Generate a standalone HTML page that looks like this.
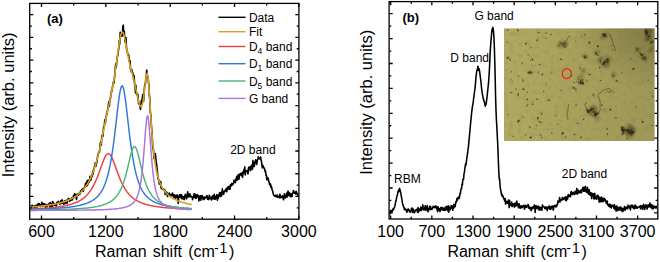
<!DOCTYPE html>
<html><head><meta charset="utf-8"><style>
html,body{margin:0;padding:0;background:#fff;}
svg{display:block;}
text{font-family:"Liberation Sans",sans-serif;fill:#000;}
</style></head><body>
<svg width="660" height="262" viewBox="0 0 660 262">
<rect width="660" height="262" fill="#fff"/>
<polyline points="30.2,207.2 30.6,207.6 31.1,206.7 31.5,205.7 32.0,206.3 32.4,205.4 32.9,207.0 33.3,208.9 33.8,206.1 34.2,205.9 34.7,207.5 35.1,207.3 35.6,206.9 36.0,205.3 36.5,206.6 36.9,207.6 37.4,204.5 37.8,205.8 38.3,203.6 38.7,204.5 39.2,203.6 39.6,206.0 40.1,204.4 40.5,206.6 41.0,206.4 41.4,205.8 41.9,202.3 42.3,205.2 42.8,205.9 43.2,206.1 43.7,203.5 44.1,205.1 44.6,204.3 45.0,204.5 45.5,207.2 45.9,204.3 46.4,205.4 46.8,206.8 47.3,204.5 47.7,204.9 48.2,205.4 48.6,205.3 49.1,203.2 49.5,205.1 50.0,207.0 50.4,202.5 50.9,206.1 51.3,204.9 51.8,203.7 52.2,207.6 52.7,201.5 53.1,202.6 53.6,204.4 54.0,205.1 54.5,203.5 54.9,205.1 55.4,203.9 55.8,204.9 56.3,206.0 56.7,202.6 57.2,203.9 57.6,202.8 58.1,201.7 58.5,201.4 59.0,202.3 59.4,202.7 59.9,204.3 60.3,203.4 60.8,200.7 61.2,201.3 61.7,203.4 62.1,199.7 62.6,201.5 63.0,201.9 63.5,203.8 63.9,204.2 64.4,201.1 64.8,200.9 65.3,200.9 65.7,203.5 66.2,200.3 66.6,200.4 67.1,203.2 67.5,200.3 68.0,200.0 68.4,198.4 68.9,199.9 69.3,199.0 69.8,201.4 70.2,200.4 70.7,199.1 71.1,200.0 71.6,198.1 72.0,200.1 72.5,198.2 72.9,198.9 73.4,195.7 73.8,198.0 74.3,194.5 74.7,193.7 75.2,196.2 75.6,194.9 76.1,196.3 76.5,199.4 77.0,194.1 77.4,194.1 77.9,195.1 78.3,195.2 78.8,193.8 79.2,193.3 79.7,194.4 80.1,193.7 80.6,190.8 81.0,191.9 81.5,191.6 81.9,189.4 82.4,191.1 82.8,188.7 83.3,191.3 83.7,188.3 84.2,188.7 84.6,187.0 85.1,187.2 85.5,183.4 86.0,186.2 86.4,186.1 86.9,181.1 87.3,185.6 87.8,180.3 88.2,183.9 88.7,180.3 89.1,182.3 89.6,180.3 90.0,176.4 90.5,180.5 90.9,179.9 91.4,176.2 91.8,174.7 92.3,176.4 92.7,171.2 93.2,173.9 93.6,169.6 94.1,169.2 94.5,166.5 95.0,165.4 95.4,162.7 95.9,166.2 96.3,164.3 96.8,162.5 97.2,158.9 97.7,155.8 98.1,154.8 98.6,152.5 99.0,151.8 99.5,152.1 99.9,147.2 100.4,142.9 100.8,142.0 101.3,145.3 101.7,138.0 102.2,135.0 102.6,135.9 103.1,136.2 103.5,127.3 104.0,128.0 104.4,124.7 104.9,119.7 105.3,123.5 105.8,119.5 106.2,117.5 106.7,113.3 107.1,114.2 107.6,109.5 108.0,108.4 108.5,103.9 108.9,101.5 109.4,106.1 109.8,99.2 110.3,99.3 110.7,96.3 111.2,93.0 111.6,90.6 112.1,91.2 112.5,86.6 113.0,84.5 113.4,82.1 113.9,83.2 114.3,79.0 114.8,75.2 115.2,69.4 115.7,63.8 116.1,67.7 116.6,64.5 117.0,57.7 117.5,56.5 117.9,54.0 118.4,50.9 118.8,48.0 119.3,40.4 119.7,44.1 120.2,32.2 120.6,36.9 121.1,33.8 121.5,33.6 122.0,36.2 122.4,34.6 122.9,26.1 123.3,25.2 123.8,35.3 124.2,31.1 124.7,36.7 125.1,42.1 125.6,38.3 126.0,37.7 126.5,48.1 126.9,50.1 127.4,51.7 127.8,55.1 128.3,54.7 128.7,55.0 129.2,61.3 129.6,60.9 130.1,60.8 130.5,69.1 131.0,69.2 131.4,72.2 131.9,69.7 132.3,72.3 132.8,73.0 133.2,75.0 133.7,79.9 134.1,75.9 134.6,84.1 135.0,86.0 135.5,92.8 135.9,85.4 136.4,93.9 136.8,93.4 137.3,95.7 137.7,94.0 138.2,98.6 138.6,103.6 139.1,103.0 139.5,104.8 140.0,104.8 140.4,109.3 140.9,106.5 141.3,100.6 141.8,103.9 142.2,99.3 142.7,94.6 143.1,99.0 143.6,101.1 144.0,94.3 144.5,87.2 144.9,83.8 145.4,84.5 145.8,78.4 146.3,76.0 146.7,70.0 147.2,73.7 147.6,77.2 148.1,77.5 148.5,82.9 149.0,85.2 149.4,96.1 149.9,100.0 150.3,111.9 150.8,115.0 151.2,122.8 151.7,129.5 152.1,132.5 152.6,144.8 153.0,149.2 153.5,149.6 153.9,158.4 154.4,159.1 154.8,156.3 155.3,153.6 155.7,157.4 156.2,162.1 156.6,164.0 157.1,169.4 157.5,173.2 158.0,178.9 158.4,179.4 158.9,180.2 159.3,184.1 159.8,181.6 160.2,183.0 160.7,181.5 161.1,188.3 161.6,188.1 162.0,188.8 162.5,189.2 162.9,189.0 163.4,189.8 163.8,189.3 164.3,190.4 164.7,189.6 165.2,194.4 165.6,193.3 166.1,192.8 166.5,192.2 167.0,192.5 167.4,196.4 167.9,195.8 168.3,194.4 168.8,194.0 169.2,193.0 169.7,194.8 170.1,196.5 170.6,194.5 171.0,194.9 171.5,194.5 171.9,195.7 172.4,193.0 172.8,195.3 173.3,194.4 173.7,197.3 174.2,194.7 174.6,196.9 175.1,198.5 175.5,195.7 176.0,195.3 176.4,196.6 176.9,197.7 177.3,194.8 177.8,197.2 178.2,203.5 178.7,196.1 179.1,196.2 179.6,194.8 180.0,197.0 180.5,194.5 180.9,194.7 181.4,198.6 181.8,195.0 182.3,198.2 182.7,198.9 183.2,196.9 183.6,197.4 184.1,199.6 184.5,196.2 185.0,195.5 185.4,194.3 185.9,196.6 186.3,198.9 186.8,198.0 187.2,195.0 187.7,191.8 188.1,195.7 188.6,197.0 189.0,194.3 189.5,196.8 189.9,193.8 190.4,196.0 190.8,196.5 191.3,196.9 191.7,196.4 192.2,197.4 192.6,199.6 193.1,197.6 193.5,196.8 194.0,194.1 194.4,197.5 194.9,193.8 195.3,194.7 195.8,198.4 196.2,198.2 196.7,196.9 197.1,194.5 197.6,196.7 198.0,196.2 198.5,195.7 198.9,201.0 199.4,197.8 199.8,196.2 200.3,195.7 200.7,200.3 201.2,197.3 201.6,195.8 202.1,197.8 202.5,195.8 203.0,199.5 203.4,199.4 203.9,199.5 204.3,197.0 204.8,198.6 205.2,197.6 205.7,197.3 206.1,197.4 206.6,195.9 207.0,195.6 207.5,199.2 207.9,197.7 208.4,198.3 208.8,199.6 209.3,195.2 209.7,196.8 210.2,198.3 210.6,198.6 211.1,197.3 211.5,200.0 212.0,198.2 212.4,195.8 212.9,196.2 213.3,198.8 213.8,198.1 214.2,194.2 214.7,199.3 215.1,198.0 215.6,199.0 216.0,196.1 216.5,196.1 216.9,194.6 217.4,200.3 217.8,195.8 218.3,198.4 218.7,194.7 219.2,195.8 219.6,192.6 220.1,194.5 220.5,196.5 221.0,192.6 221.4,196.1 221.9,194.7 222.3,188.8 222.8,192.7 223.2,192.5 223.7,194.3 224.1,191.7 224.6,190.9 225.0,191.5 225.5,189.9 225.9,189.0 226.4,190.6 226.8,191.7 227.3,187.2 227.7,189.2 228.2,187.6 228.6,186.5 229.1,189.1 229.5,186.2 230.0,189.2 230.4,184.8 230.9,186.3 231.3,184.8 231.8,183.4 232.2,185.2 232.7,183.5 233.1,184.3 233.6,182.7 234.0,180.4 234.5,181.7 234.9,181.5 235.4,182.6 235.8,178.8 236.3,179.9 236.7,176.5 237.2,180.2 237.6,176.7 238.1,174.9 238.5,177.6 239.0,179.3 239.4,174.1 239.9,174.4 240.3,174.6 240.8,173.4 241.2,175.7 241.7,173.1 242.1,172.8 242.6,177.5 243.0,171.8 243.5,173.6 243.9,169.9 244.4,169.8 244.8,166.9 245.3,175.0 245.7,170.7 246.2,171.5 246.6,170.8 247.1,171.0 247.5,170.7 248.0,174.0 248.4,168.3 248.9,167.1 249.3,167.1 249.8,167.0 250.2,170.6 250.7,170.4 251.1,166.5 251.6,165.1 252.0,166.5 252.5,169.3 252.9,160.6 253.4,166.6 253.8,162.9 254.3,166.5 254.7,161.8 255.2,162.8 255.6,159.9 256.1,160.4 256.5,164.5 257.0,162.9 257.4,160.0 257.9,158.7 258.3,156.8 258.8,158.7 259.2,159.0 259.7,158.6 260.1,158.5 260.6,157.0 261.0,160.0 261.5,161.3 261.9,165.4 262.4,167.9 262.8,165.3 263.3,166.7 263.7,167.8 264.2,168.0 264.6,169.0 265.1,171.6 265.5,171.0 266.0,175.3 266.4,175.3 266.9,179.8 267.3,177.6 267.8,177.9 268.2,178.7 268.7,181.1 269.1,181.8 269.6,184.3 270.0,185.1 270.5,183.9 270.9,187.5 271.4,186.3 271.8,188.6 272.3,190.3 272.7,191.3 273.2,193.6 273.6,195.0 274.1,195.6 274.5,195.9 275.0,196.3 275.4,195.3 275.9,196.5 276.3,196.0 276.8,197.0 277.2,195.0 277.7,197.3 278.1,197.1 278.6,196.7 279.0,196.2 279.5,197.8 279.9,194.2 280.4,197.6 280.8,197.3 281.3,197.3 281.7,197.4 282.2,195.7 282.6,196.2 283.1,197.6 283.5,199.8 284.0,196.7 284.4,193.9 284.9,197.0 285.3,197.9 285.8,197.6 286.2,196.2 286.7,193.1 287.1,197.0 287.6,195.1 288.0,191.1 288.5,195.7 288.9,192.5 289.4,192.7 289.8,193.6 290.3,196.6 290.7,193.7 291.2,194.5 291.6,196.6 292.1,196.1 292.5,193.1 293.0,192.6 293.4,190.6 293.9,191.4 294.3,193.1 294.8,193.0 295.2,192.5 295.7,194.0 296.1,191.2 296.6,192.5 297.0,194.0 297.5,193.9 297.9,195.0 298.4,194.1" fill="none" stroke="#000" stroke-width="1.6" stroke-linejoin="round"/>
<polyline points="30.2,208.9 30.7,208.9 31.2,208.9 31.7,208.9 32.2,208.9 32.7,208.8 33.2,208.8 33.7,208.8 34.2,208.8 34.7,208.8 35.2,208.7 35.7,208.7 36.2,208.7 36.7,208.7 37.2,208.6 37.7,208.6 38.2,208.6 38.7,208.6 39.2,208.5 39.7,208.5 40.2,208.5 40.7,208.4 41.2,208.4 41.7,208.4 42.2,208.4 42.7,208.3 43.2,208.3 43.7,208.3 44.2,208.2 44.7,208.2 45.2,208.2 45.7,208.1 46.2,208.1 46.7,208.0 47.2,208.0 47.7,208.0 48.2,207.9 48.7,207.9 49.2,207.8 49.7,207.8 50.2,207.8 50.7,207.7 51.2,207.7 51.7,207.6 52.2,207.6 52.7,207.5 53.2,207.5 53.7,207.4 54.2,207.4 54.7,207.3 55.2,207.2 55.7,207.2 56.2,207.1 56.7,207.1 57.2,207.0 57.7,206.9 58.2,206.9 58.7,206.8 59.2,206.7 59.7,206.7 60.2,206.6 60.7,206.5 61.2,206.4 61.7,206.3 62.2,206.3 62.7,206.2 63.2,206.1 63.7,206.0 64.2,205.9 64.7,205.8 65.2,205.7 65.7,205.6 66.2,205.5 66.7,205.4 67.2,205.3 67.7,205.2 68.2,205.0 68.7,204.9 69.2,204.8 69.7,204.6 70.2,204.5 70.7,204.4 71.2,204.2 71.7,204.1 72.2,203.9 72.7,203.7 73.2,203.6 73.7,203.4 74.2,203.2 74.7,203.0 75.2,202.8 75.7,202.6 76.2,202.4 76.7,202.2 77.2,202.0 77.7,201.7 78.2,201.5 78.7,201.2 79.2,200.9 79.7,200.7 80.2,200.4 80.7,200.1 81.2,199.8 81.7,199.4 82.2,199.1 82.7,198.7 83.2,198.4 83.7,198.0 84.2,197.6 84.7,197.1 85.2,196.7 85.7,196.2 86.2,195.8 86.7,195.3 87.2,194.7 87.7,194.2 88.2,193.6 88.7,193.0 89.2,192.4 89.7,191.7 90.2,191.0 90.7,190.3 91.2,189.5 91.7,188.7 92.2,187.9 92.7,187.0 93.2,186.1 93.7,185.2 94.2,184.2 94.7,183.2 95.2,182.1 95.7,181.0 96.2,179.9 96.7,178.7 97.2,177.5 97.7,176.2 98.2,174.9 98.7,173.6 99.2,172.2 99.7,170.8 100.2,169.4 100.7,168.0 101.2,166.6 101.7,165.2 102.2,163.8 102.7,162.5 103.2,161.2 103.7,159.9 104.2,158.7 104.7,157.7 105.2,156.7 105.7,155.8 106.2,155.1 106.7,154.5 107.2,154.0 107.7,153.8 108.2,153.6 108.7,153.7 109.2,153.9 109.7,154.3 110.2,154.8 110.7,155.5 111.2,156.3 111.7,157.2 112.2,158.3 112.7,159.4 113.2,160.6 113.7,161.9 114.2,163.2 114.7,164.6 115.2,166.0 115.7,167.4 116.2,168.8 116.7,170.2 117.2,171.6 117.7,173.0 118.2,174.3 118.7,175.6 119.2,176.9 119.7,178.2 120.2,179.4 120.7,180.5 121.2,181.7 121.7,182.7 122.2,183.8 122.7,184.8 123.2,185.7 123.7,186.7 124.2,187.5 124.7,188.4 125.2,189.2 125.7,190.0 126.2,190.7 126.7,191.4 127.2,192.1 127.7,192.7 128.2,193.3 128.7,193.9 129.2,194.5 129.7,195.0 130.2,195.5 130.7,196.0 131.2,196.5 131.7,197.0 132.2,197.4 132.7,197.8 133.2,198.2 133.7,198.6 134.2,198.9 134.7,199.3 135.2,199.6 135.7,199.9 136.2,200.2 136.7,200.5 137.2,200.8 137.7,201.1 138.2,201.4 138.7,201.6 139.2,201.9 139.7,202.1 140.2,202.3 140.7,202.5 141.2,202.7 141.7,202.9 142.2,203.1 142.7,203.3 143.2,203.5 143.7,203.7 144.2,203.8 144.7,204.0 145.2,204.1 145.7,204.3 146.2,204.4 146.7,204.6 147.2,204.7 147.7,204.8 148.2,205.0 148.7,205.1 149.2,205.2 149.7,205.3 150.2,205.4 150.7,205.6 151.2,205.7 151.7,205.8 152.2,205.9 152.7,206.0 153.2,206.0 153.7,206.1 154.2,206.2 154.7,206.3 155.2,206.4 155.7,206.5 156.2,206.5 156.7,206.6 157.2,206.7 157.7,206.8 158.2,206.8 158.7,206.9 159.2,207.0 159.7,207.0 160.2,207.1 160.7,207.2 161.2,207.2 161.7,207.3 162.2,207.3 162.7,207.4 163.2,207.4 163.7,207.5 164.2,207.5 164.7,207.6 165.2,207.6 165.7,207.7 166.2,207.7 166.7,207.8 167.2,207.8 167.7,207.9 168.2,207.9 168.7,207.9 169.2,208.0 169.7,208.0 170.2,208.1 170.7,208.1 171.2,208.1 171.7,208.2 172.2,208.2 172.7,208.2 173.2,208.3 173.7,208.3 174.2,208.3 174.7,208.4 175.2,208.4 175.7,208.4 176.2,208.5 176.7,208.5 177.2,208.5 177.7,208.5 178.2,208.6 178.7,208.6 179.2,208.6 179.7,208.6 180.2,208.7 180.7,208.7 181.2,208.7 181.7,208.7 182.2,208.8 182.7,208.8 183.2,208.8 183.7,208.8 184.2,208.9 184.7,208.9 185.2,208.9 185.7,208.9 186.2,208.9 186.7,209.0 187.2,209.0 187.7,209.0 188.2,209.0 188.7,209.0 189.2,209.0 189.7,209.1 190.2,209.1 190.7,209.1 191.2,209.1 191.7,209.1" fill="none" stroke="#e8403f" stroke-width="1.45"/>
<polyline points="30.2,209.4 30.7,209.4 31.2,209.3 31.7,209.3 32.2,209.3 32.7,209.3 33.2,209.3 33.7,209.3 34.2,209.3 34.7,209.2 35.2,209.2 35.7,209.2 36.2,209.2 36.7,209.2 37.2,209.2 37.7,209.2 38.2,209.1 38.7,209.1 39.2,209.1 39.7,209.1 40.2,209.1 40.7,209.1 41.2,209.0 41.7,209.0 42.2,209.0 42.7,209.0 43.2,209.0 43.7,209.0 44.2,208.9 44.7,208.9 45.2,208.9 45.7,208.9 46.2,208.9 46.7,208.8 47.2,208.8 47.7,208.8 48.2,208.8 48.7,208.7 49.2,208.7 49.7,208.7 50.2,208.7 50.7,208.6 51.2,208.6 51.7,208.6 52.2,208.6 52.7,208.5 53.2,208.5 53.7,208.5 54.2,208.4 54.7,208.4 55.2,208.4 55.7,208.4 56.2,208.3 56.7,208.3 57.2,208.3 57.7,208.2 58.2,208.2 58.7,208.2 59.2,208.1 59.7,208.1 60.2,208.0 60.7,208.0 61.2,208.0 61.7,207.9 62.2,207.9 62.7,207.8 63.2,207.8 63.7,207.7 64.2,207.7 64.7,207.7 65.2,207.6 65.7,207.6 66.2,207.5 66.7,207.5 67.2,207.4 67.7,207.3 68.2,207.3 68.7,207.2 69.2,207.2 69.7,207.1 70.2,207.0 70.7,207.0 71.2,206.9 71.7,206.8 72.2,206.8 72.7,206.7 73.2,206.6 73.7,206.5 74.2,206.5 74.7,206.4 75.2,206.3 75.7,206.2 76.2,206.1 76.7,206.0 77.2,205.9 77.7,205.8 78.2,205.7 78.7,205.6 79.2,205.5 79.7,205.4 80.2,205.3 80.7,205.2 81.2,205.0 81.7,204.9 82.2,204.8 82.7,204.6 83.2,204.5 83.7,204.3 84.2,204.2 84.7,204.0 85.2,203.9 85.7,203.7 86.2,203.5 86.7,203.3 87.2,203.1 87.7,202.9 88.2,202.7 88.7,202.5 89.2,202.3 89.7,202.0 90.2,201.8 90.7,201.5 91.2,201.3 91.7,201.0 92.2,200.7 92.7,200.4 93.2,200.1 93.7,199.7 94.2,199.4 94.7,199.0 95.2,198.6 95.7,198.2 96.2,197.8 96.7,197.3 97.2,196.8 97.7,196.3 98.2,195.8 98.7,195.2 99.2,194.6 99.7,194.0 100.2,193.3 100.7,192.6 101.2,191.8 101.7,191.0 102.2,190.1 102.7,189.2 103.2,188.2 103.7,187.1 104.2,186.0 104.7,184.8 105.2,183.5 105.7,182.1 106.2,180.7 106.7,179.1 107.2,177.4 107.7,175.6 108.2,173.7 108.7,171.6 109.2,169.4 109.7,167.1 110.2,164.6 110.7,161.9 111.2,159.1 111.7,156.1 112.2,152.9 112.7,149.6 113.2,146.1 113.7,142.4 114.2,138.5 114.7,134.5 115.2,130.3 115.7,126.1 116.2,121.7 116.7,117.4 117.2,113.0 117.7,108.7 118.2,104.5 118.7,100.6 119.2,96.9 119.7,93.7 120.2,90.9 120.7,88.7 121.2,87.1 121.7,86.1 122.2,85.9 122.7,86.4 123.2,87.6 123.7,89.4 124.2,91.8 124.7,94.8 125.2,98.2 125.7,102.0 126.2,106.0 126.7,110.2 127.2,114.6 127.7,118.9 128.2,123.3 128.7,127.6 129.2,131.9 129.7,136.0 130.2,139.9 130.7,143.7 131.2,147.4 131.7,150.8 132.2,154.1 132.7,157.2 133.2,160.1 133.7,162.9 134.2,165.5 134.7,167.9 135.2,170.2 135.7,172.4 136.2,174.4 136.7,176.3 137.2,178.0 137.7,179.7 138.2,181.2 138.7,182.6 139.2,184.0 139.7,185.2 140.2,186.4 140.7,187.5 141.2,188.6 141.7,189.5 142.2,190.4 142.7,191.3 143.2,192.1 143.7,192.8 144.2,193.5 144.7,194.2 145.2,194.8 145.7,195.4 146.2,196.0 146.7,196.5 147.2,197.0 147.7,197.5 148.2,197.9 148.7,198.3 149.2,198.7 149.7,199.1 150.2,199.5 150.7,199.8 151.2,200.2 151.7,200.5 152.2,200.8 152.7,201.1 153.2,201.4 153.7,201.6 154.2,201.9 154.7,202.1 155.2,202.4 155.7,202.6 156.2,202.8 156.7,203.0 157.2,203.2 157.7,203.4 158.2,203.6 158.7,203.8 159.2,203.9 159.7,204.1 160.2,204.2 160.7,204.4 161.2,204.5 161.7,204.7 162.2,204.8 162.7,205.0 163.2,205.1 163.7,205.2 164.2,205.3 164.7,205.4 165.2,205.6 165.7,205.7 166.2,205.8 166.7,205.9 167.2,206.0 167.7,206.1 168.2,206.1 168.7,206.2 169.2,206.3 169.7,206.4 170.2,206.5 170.7,206.6 171.2,206.6 171.7,206.7 172.2,206.8 172.7,206.9 173.2,206.9 173.7,207.0 174.2,207.1 174.7,207.1 175.2,207.2 175.7,207.2 176.2,207.3 176.7,207.4 177.2,207.4 177.7,207.5 178.2,207.5 178.7,207.6 179.2,207.6 179.7,207.7 180.2,207.7 180.7,207.8 181.2,207.8 181.7,207.9 182.2,207.9 182.7,207.9 183.2,208.0 183.7,208.0 184.2,208.1 184.7,208.1 185.2,208.1 185.7,208.2 186.2,208.2 186.7,208.2 187.2,208.3 187.7,208.3 188.2,208.3 188.7,208.4 189.2,208.4 189.7,208.4 190.2,208.5 190.7,208.5 191.2,208.5 191.7,208.5" fill="none" stroke="#2f78d6" stroke-width="1.45"/>
<polyline points="30.2,209.9 30.7,209.9 31.2,209.9 31.7,209.9 32.2,209.9 32.7,209.9 33.2,209.9 33.7,209.9 34.2,209.9 34.7,209.9 35.2,209.9 35.7,209.9 36.2,209.9 36.7,209.9 37.2,209.9 37.7,209.9 38.2,209.9 38.7,209.8 39.2,209.8 39.7,209.8 40.2,209.8 40.7,209.8 41.2,209.8 41.7,209.8 42.2,209.8 42.7,209.8 43.2,209.8 43.7,209.8 44.2,209.8 44.7,209.8 45.2,209.8 45.7,209.7 46.2,209.7 46.7,209.7 47.2,209.7 47.7,209.7 48.2,209.7 48.7,209.7 49.2,209.7 49.7,209.7 50.2,209.7 50.7,209.7 51.2,209.6 51.7,209.6 52.2,209.6 52.7,209.6 53.2,209.6 53.7,209.6 54.2,209.6 54.7,209.6 55.2,209.6 55.7,209.5 56.2,209.5 56.7,209.5 57.2,209.5 57.7,209.5 58.2,209.5 58.7,209.5 59.2,209.5 59.7,209.4 60.2,209.4 60.7,209.4 61.2,209.4 61.7,209.4 62.2,209.4 62.7,209.4 63.2,209.3 63.7,209.3 64.2,209.3 64.7,209.3 65.2,209.3 65.7,209.3 66.2,209.2 66.7,209.2 67.2,209.2 67.7,209.2 68.2,209.2 68.7,209.1 69.2,209.1 69.7,209.1 70.2,209.1 70.7,209.1 71.2,209.0 71.7,209.0 72.2,209.0 72.7,209.0 73.2,208.9 73.7,208.9 74.2,208.9 74.7,208.9 75.2,208.8 75.7,208.8 76.2,208.8 76.7,208.8 77.2,208.7 77.7,208.7 78.2,208.7 78.7,208.6 79.2,208.6 79.7,208.6 80.2,208.5 80.7,208.5 81.2,208.5 81.7,208.4 82.2,208.4 82.7,208.3 83.2,208.3 83.7,208.3 84.2,208.2 84.7,208.2 85.2,208.1 85.7,208.1 86.2,208.0 86.7,208.0 87.2,207.9 87.7,207.9 88.2,207.8 88.7,207.8 89.2,207.7 89.7,207.6 90.2,207.6 90.7,207.5 91.2,207.5 91.7,207.4 92.2,207.3 92.7,207.2 93.2,207.2 93.7,207.1 94.2,207.0 94.7,206.9 95.2,206.8 95.7,206.8 96.2,206.7 96.7,206.6 97.2,206.5 97.7,206.4 98.2,206.3 98.7,206.1 99.2,206.0 99.7,205.9 100.2,205.8 100.7,205.7 101.2,205.5 101.7,205.4 102.2,205.2 102.7,205.1 103.2,204.9 103.7,204.8 104.2,204.6 104.7,204.4 105.2,204.2 105.7,204.0 106.2,203.8 106.7,203.6 107.2,203.4 107.7,203.1 108.2,202.9 108.7,202.6 109.2,202.3 109.7,202.1 110.2,201.8 110.7,201.4 111.2,201.1 111.7,200.8 112.2,200.4 112.7,200.0 113.2,199.6 113.7,199.1 114.2,198.7 114.7,198.2 115.2,197.7 115.7,197.1 116.2,196.5 116.7,195.9 117.2,195.3 117.7,194.6 118.2,193.8 118.7,193.1 119.2,192.2 119.7,191.4 120.2,190.4 120.7,189.4 121.2,188.4 121.7,187.3 122.2,186.1 122.7,184.8 123.2,183.5 123.7,182.0 124.2,180.5 124.7,178.9 125.2,177.3 125.7,175.5 126.2,173.6 126.7,171.7 127.2,169.7 127.7,167.7 128.2,165.6 128.7,163.4 129.2,161.3 129.7,159.1 130.2,157.0 130.7,155.0 131.2,153.1 131.7,151.4 132.2,149.9 132.7,148.6 133.2,147.6 133.7,146.9 134.2,146.6 134.7,146.5 135.2,146.8 135.7,147.5 136.2,148.5 136.7,149.7 137.2,151.2 137.7,152.9 138.2,154.7 138.7,156.7 139.2,158.8 139.7,160.9 140.2,163.1 140.7,165.2 141.2,167.4 141.7,169.4 142.2,171.4 142.7,173.4 143.2,175.2 143.7,177.0 144.2,178.7 144.7,180.3 145.2,181.8 145.7,183.2 146.2,184.6 146.7,185.9 147.2,187.1 147.7,188.2 148.2,189.3 148.7,190.3 149.2,191.2 149.7,192.1 150.2,193.0 150.7,193.7 151.2,194.5 151.7,195.2 152.2,195.8 152.7,196.5 153.2,197.0 153.7,197.6 154.2,198.1 154.7,198.6 155.2,199.1 155.7,199.5 156.2,199.9 156.7,200.3 157.2,200.7 157.7,201.1 158.2,201.4 158.7,201.7 159.2,202.0 159.7,202.3 160.2,202.6 160.7,202.8 161.2,203.1 161.7,203.3 162.2,203.6 162.7,203.8 163.2,204.0 163.7,204.2 164.2,204.4 164.7,204.6 165.2,204.7 165.7,204.9 166.2,205.1 166.7,205.2 167.2,205.4 167.7,205.5 168.2,205.6 168.7,205.8 169.2,205.9 169.7,206.0 170.2,206.1 170.7,206.2 171.2,206.4 171.7,206.5 172.2,206.6 172.7,206.7 173.2,206.7 173.7,206.8 174.2,206.9 174.7,207.0 175.2,207.1 175.7,207.2 176.2,207.2 176.7,207.3 177.2,207.4 177.7,207.4 178.2,207.5 178.7,207.6 179.2,207.6 179.7,207.7 180.2,207.8 180.7,207.8 181.2,207.9 181.7,207.9 182.2,208.0 182.7,208.0 183.2,208.1 183.7,208.1 184.2,208.2 184.7,208.2 185.2,208.3 185.7,208.3 186.2,208.3 186.7,208.4 187.2,208.4 187.7,208.5 188.2,208.5 188.7,208.5 189.2,208.6 189.7,208.6 190.2,208.6 190.7,208.7 191.2,208.7 191.7,208.7" fill="none" stroke="#4db27b" stroke-width="1.45"/>
<polyline points="30.2,210.4 30.7,210.4 31.2,210.4 31.7,210.4 32.2,210.4 32.7,210.4 33.2,210.4 33.7,210.4 34.2,210.4 34.7,210.4 35.2,210.4 35.7,210.4 36.2,210.4 36.7,210.4 37.2,210.4 37.7,210.3 38.2,210.3 38.7,210.3 39.2,210.3 39.7,210.3 40.2,210.3 40.7,210.3 41.2,210.3 41.7,210.3 42.2,210.3 42.7,210.3 43.2,210.3 43.7,210.3 44.2,210.3 44.7,210.3 45.2,210.3 45.7,210.3 46.2,210.3 46.7,210.3 47.2,210.3 47.7,210.3 48.2,210.3 48.7,210.3 49.2,210.3 49.7,210.3 50.2,210.3 50.7,210.3 51.2,210.3 51.7,210.3 52.2,210.3 52.7,210.3 53.2,210.3 53.7,210.3 54.2,210.3 54.7,210.3 55.2,210.3 55.7,210.3 56.2,210.3 56.7,210.3 57.2,210.3 57.7,210.3 58.2,210.3 58.7,210.3 59.2,210.3 59.7,210.3 60.2,210.3 60.7,210.3 61.2,210.3 61.7,210.3 62.2,210.3 62.7,210.3 63.2,210.3 63.7,210.2 64.2,210.2 64.7,210.2 65.2,210.2 65.7,210.2 66.2,210.2 66.7,210.2 67.2,210.2 67.7,210.2 68.2,210.2 68.7,210.2 69.2,210.2 69.7,210.2 70.2,210.2 70.7,210.2 71.2,210.2 71.7,210.2 72.2,210.2 72.7,210.2 73.2,210.2 73.7,210.2 74.2,210.2 74.7,210.2 75.2,210.2 75.7,210.2 76.2,210.2 76.7,210.2 77.2,210.1 77.7,210.1 78.2,210.1 78.7,210.1 79.2,210.1 79.7,210.1 80.2,210.1 80.7,210.1 81.2,210.1 81.7,210.1 82.2,210.1 82.7,210.1 83.2,210.1 83.7,210.1 84.2,210.1 84.7,210.1 85.2,210.1 85.7,210.0 86.2,210.0 86.7,210.0 87.2,210.0 87.7,210.0 88.2,210.0 88.7,210.0 89.2,210.0 89.7,210.0 90.2,210.0 90.7,210.0 91.2,210.0 91.7,209.9 92.2,209.9 92.7,209.9 93.2,209.9 93.7,209.9 94.2,209.9 94.7,209.9 95.2,209.9 95.7,209.9 96.2,209.8 96.7,209.8 97.2,209.8 97.7,209.8 98.2,209.8 98.7,209.8 99.2,209.8 99.7,209.8 100.2,209.7 100.7,209.7 101.2,209.7 101.7,209.7 102.2,209.7 102.7,209.7 103.2,209.6 103.7,209.6 104.2,209.6 104.7,209.6 105.2,209.6 105.7,209.5 106.2,209.5 106.7,209.5 107.2,209.5 107.7,209.4 108.2,209.4 108.7,209.4 109.2,209.3 109.7,209.3 110.2,209.3 110.7,209.3 111.2,209.2 111.7,209.2 112.2,209.1 112.7,209.1 113.2,209.1 113.7,209.0 114.2,209.0 114.7,208.9 115.2,208.9 115.7,208.8 116.2,208.8 116.7,208.7 117.2,208.7 117.7,208.6 118.2,208.6 118.7,208.5 119.2,208.4 119.7,208.3 120.2,208.3 120.7,208.2 121.2,208.1 121.7,208.0 122.2,207.9 122.7,207.8 123.2,207.7 123.7,207.6 124.2,207.5 124.7,207.3 125.2,207.2 125.7,207.1 126.2,206.9 126.7,206.7 127.2,206.6 127.7,206.4 128.2,206.2 128.7,205.9 129.2,205.7 129.7,205.5 130.2,205.2 130.7,204.9 131.2,204.5 131.7,204.2 132.2,203.8 132.7,203.4 133.2,202.9 133.7,202.4 134.2,201.8 134.7,201.2 135.2,200.5 135.7,199.7 136.2,198.9 136.7,197.9 137.2,196.7 137.7,195.5 138.2,194.0 138.7,192.3 139.2,190.4 139.7,188.1 140.2,185.6 140.7,182.6 141.2,179.3 141.7,175.4 142.2,171.1 142.7,166.2 143.2,160.8 143.7,154.8 144.2,148.4 144.7,141.7 145.2,134.9 145.7,128.5 146.2,122.9 146.7,118.6 147.2,116.3 147.7,116.0 148.2,118.0 148.7,121.9 149.2,127.2 149.7,133.5 150.2,140.3 150.7,147.0 151.2,153.5 151.7,159.6 152.2,165.1 152.7,170.1 153.2,174.6 153.7,178.5 154.2,182.0 154.7,185.0 155.2,187.6 155.7,189.9 156.2,191.9 156.7,193.7 157.2,195.2 157.7,196.5 158.2,197.7 158.7,198.7 159.2,199.6 159.7,200.4 160.2,201.1 160.7,201.7 161.2,202.3 161.7,202.8 162.2,203.3 162.7,203.7 163.2,204.1 163.7,204.5 164.2,204.8 164.7,205.1 165.2,205.4 165.7,205.7 166.2,205.9 166.7,206.1 167.2,206.3 167.7,206.5 168.2,206.7 168.7,206.9 169.2,207.0 169.7,207.2 170.2,207.3 170.7,207.4 171.2,207.6 171.7,207.7 172.2,207.8 172.7,207.9 173.2,208.0 173.7,208.1 174.2,208.2 174.7,208.3 175.2,208.3 175.7,208.4 176.2,208.5 176.7,208.5 177.2,208.6 177.7,208.7 178.2,208.7 178.7,208.8 179.2,208.8 179.7,208.9 180.2,208.9 180.7,209.0 181.2,209.0 181.7,209.1 182.2,209.1 182.7,209.1 183.2,209.2 183.7,209.2 184.2,209.2 184.7,209.3 185.2,209.3 185.7,209.3 186.2,209.4 186.7,209.4 187.2,209.4 187.7,209.5 188.2,209.5 188.7,209.5 189.2,209.5 189.7,209.5 190.2,209.6 190.7,209.6 191.2,209.6 191.7,209.6" fill="none" stroke="#ab72dc" stroke-width="1.45"/>
<polyline points="30.2,207.1 30.7,207.1 31.2,207.1 31.7,207.0 32.2,207.0 32.7,207.0 33.2,206.9 33.7,206.9 34.2,206.8 34.7,206.8 35.2,206.7 35.7,206.7 36.2,206.6 36.7,206.6 37.2,206.6 37.7,206.5 38.2,206.5 38.7,206.4 39.2,206.4 39.7,206.3 40.2,206.2 40.7,206.2 41.2,206.1 41.7,206.1 42.2,206.0 42.7,206.0 43.2,205.9 43.7,205.8 44.2,205.8 44.7,205.7 45.2,205.7 45.7,205.6 46.2,205.5 46.7,205.4 47.2,205.4 47.7,205.3 48.2,205.2 48.7,205.2 49.2,205.1 49.7,205.0 50.2,204.9 50.7,204.8 51.2,204.8 51.7,204.7 52.2,204.6 52.7,204.5 53.2,204.4 53.7,204.3 54.2,204.2 54.7,204.1 55.2,204.0 55.7,203.9 56.2,203.8 56.7,203.7 57.2,203.6 57.7,203.5 58.2,203.3 58.7,203.2 59.2,203.1 59.7,203.0 60.2,202.8 60.7,202.7 61.2,202.6 61.7,202.4 62.2,202.3 62.7,202.1 63.2,202.0 63.7,201.8 64.2,201.7 64.7,201.5 65.2,201.3 65.7,201.2 66.2,201.0 66.7,200.8 67.2,200.6 67.7,200.4 68.2,200.2 68.7,200.0 69.2,199.8 69.7,199.6 70.2,199.4 70.7,199.1 71.2,198.9 71.7,198.6 72.2,198.4 72.7,198.1 73.2,197.8 73.7,197.6 74.2,197.3 74.7,197.0 75.2,196.6 75.7,196.3 76.2,196.0 76.7,195.6 77.2,195.3 77.7,194.9 78.2,194.5 78.7,194.1 79.2,193.7 79.7,193.3 80.2,192.8 80.7,192.4 81.2,191.9 81.7,191.4 82.2,190.9 82.7,190.3 83.2,189.8 83.7,189.2 84.2,188.6 84.7,187.9 85.2,187.3 85.7,186.6 86.2,185.9 86.7,185.1 87.2,184.3 87.7,183.5 88.2,182.7 88.7,181.8 89.2,180.9 89.7,179.9 90.2,178.9 90.7,177.8 91.2,176.7 91.7,175.6 92.2,174.4 92.7,173.1 93.2,171.8 93.7,170.4 94.2,169.0 94.7,167.5 95.2,166.0 95.7,164.4 96.2,162.7 96.7,160.9 97.2,159.1 97.7,157.2 98.2,155.2 98.7,153.2 99.2,151.1 99.7,149.0 100.2,146.8 100.7,144.5 101.2,142.1 101.7,139.8 102.2,137.4 102.7,134.9 103.2,132.4 103.7,129.9 104.2,127.5 104.7,125.0 105.2,122.5 105.7,120.0 106.2,117.6 106.7,115.2 107.2,112.8 107.7,110.4 108.2,108.1 108.7,105.8 109.2,103.5 109.7,101.2 110.2,98.9 110.7,96.6 111.2,94.2 111.7,91.8 112.2,89.2 112.7,86.6 113.2,83.8 113.7,81.0 114.2,77.9 114.7,74.7 115.2,71.4 115.7,68.0 116.2,64.4 116.7,60.8 117.2,57.1 117.7,53.4 118.2,49.8 118.7,46.3 119.2,43.0 119.7,40.1 120.2,37.5 120.7,35.3 121.2,33.7 121.7,32.7 122.2,32.2 122.7,32.3 123.2,33.0 123.7,34.2 124.2,35.9 124.7,38.0 125.2,40.4 125.7,43.0 126.2,45.8 126.7,48.6 127.2,51.5 127.7,54.2 128.2,56.9 128.7,59.5 129.2,61.9 129.7,64.1 130.2,66.2 130.7,68.2 131.2,70.1 131.7,71.9 132.2,73.7 132.7,75.5 133.2,77.4 133.7,79.3 134.2,81.4 134.7,83.5 135.2,85.7 135.7,88.1 136.2,90.5 136.7,92.9 137.2,95.3 137.7,97.6 138.2,99.8 138.7,101.8 139.2,103.6 139.7,104.9 140.2,105.9 140.7,106.5 141.2,106.4 141.7,105.8 142.2,104.6 142.7,102.7 143.2,100.1 143.7,96.8 144.2,93.0 144.7,88.7 145.2,84.2 145.7,80.0 146.2,76.4 146.7,74.1 147.2,73.6 147.7,75.1 148.2,78.7 148.7,84.1 149.2,91.0 149.7,98.6 150.2,106.7 150.7,114.7 151.2,122.4 151.7,129.5 152.2,136.2 152.7,142.2 153.2,147.6 153.7,152.4 154.2,156.7 154.7,160.6 155.2,164.0 155.7,167.0 156.2,169.7 156.7,172.1 157.2,174.3 157.7,176.2 158.2,178.0 158.7,179.6 159.2,181.0 159.7,182.3 160.2,183.5 160.7,184.7 161.2,185.7 161.7,186.6 162.2,187.5 162.7,188.4 163.2,189.2 163.7,189.9 164.2,190.6 164.7,191.2 165.2,191.8 165.7,192.4 166.2,193.0 166.7,193.5 167.2,194.0 167.7,194.5 168.2,194.9 168.7,195.4 169.2,195.8 169.7,196.2 170.2,196.5 170.7,196.9 171.2,197.2 171.7,197.6 172.2,197.9 172.7,198.2 173.2,198.5 173.7,198.8 174.2,199.0 174.7,199.3 175.2,199.5 175.7,199.8 176.2,200.0 176.7,200.2 177.2,200.4 177.7,200.7 178.2,200.9 178.7,201.1 179.2,201.2 179.7,201.4 180.2,201.6 180.7,201.8 181.2,201.9 181.7,202.1 182.2,202.3 182.7,202.4 183.2,202.6 183.7,202.7 184.2,202.8 184.7,203.0 185.2,203.1 185.7,203.2 186.2,203.4 186.7,203.5 187.2,203.6 187.7,203.7 188.2,203.8 188.7,203.9 189.2,204.1 189.7,204.2 190.2,204.3 190.7,204.4 191.2,204.5 191.7,204.5" fill="none" stroke="#d4a11e" stroke-width="1.6"/>
<rect x="29.7" y="3.4" width="269.20" height="215.80" fill="none" stroke="#000" stroke-width="1.3"/>
<path d="M41.50,219.2v-3.6M41.50,3.4v3.6M105.85,219.2v-3.6M105.85,3.4v3.6M170.19,219.2v-3.6M170.19,3.4v3.6M234.54,219.2v-3.6M234.54,3.4v3.6M298.88,219.2v-3.6M298.88,3.4v3.6M73.68,219.2v-2.2M73.68,3.4v2.2M138.02,219.2v-2.2M138.02,3.4v2.2M202.36,219.2v-2.2M202.36,3.4v2.2M266.71,219.2v-2.2M266.71,3.4v2.2M29.7,196.47h3.6M298.9,196.47h-3.6M29.7,173.75h3.6M298.9,173.75h-3.6M29.7,151.02h3.6M298.9,151.02h-3.6M29.7,128.30h3.6M298.9,128.30h-3.6M29.7,105.57h3.6M298.9,105.57h-3.6M29.7,82.85h3.6M298.9,82.85h-3.6M29.7,60.12h3.6M298.9,60.12h-3.6M29.7,37.40h3.6M298.9,37.40h-3.6M29.7,14.67h3.6M298.9,14.67h-3.6M29.7,207.84h2.2M298.9,207.84h-2.2M29.7,185.12h2.2M298.9,185.12h-2.2M29.7,162.39h2.2M298.9,162.39h-2.2M29.7,139.66h2.2M298.9,139.66h-2.2M29.7,116.94h2.2M298.9,116.94h-2.2M29.7,94.21h2.2M298.9,94.21h-2.2M29.7,71.49h2.2M298.9,71.49h-2.2M29.7,48.76h2.2M298.9,48.76h-2.2M29.7,26.04h2.2M298.9,26.04h-2.2" stroke="#000" stroke-width="1.3" fill="none"/>
<polyline points="389.6,214.6 390.0,213.5 390.4,210.4 390.8,211.9 391.2,212.1 391.6,210.9 392.0,212.1 392.4,210.2 392.8,209.0 393.2,210.2 393.6,209.1 394.0,208.1 394.4,207.5 394.8,206.4 395.2,204.8 395.6,202.0 396.0,200.8 396.4,198.8 396.8,196.6 397.2,195.3 397.6,194.2 398.0,191.9 398.4,190.4 398.8,191.8 399.2,189.3 399.6,188.4 400.0,190.1 400.4,191.1 400.8,192.9 401.2,196.0 401.6,197.6 402.0,199.6 402.4,202.6 402.8,204.6 403.2,205.4 403.6,207.0 404.0,207.6 404.4,209.7 404.8,208.2 405.2,209.8 405.6,209.2 406.0,209.4 406.4,210.6 406.8,212.3 407.2,211.5 407.6,210.2 408.0,209.0 408.4,209.1 408.8,209.4 409.2,210.7 409.6,211.9 410.0,210.6 410.4,211.5 410.8,212.2 411.2,210.3 411.6,208.1 412.0,208.5 412.4,208.2 412.8,212.4 413.2,209.1 413.6,212.0 414.0,211.1 414.4,212.7 414.8,211.7 415.2,210.2 415.6,210.0 416.0,210.4 416.4,210.4 416.8,209.4 417.2,210.0 417.6,212.2 418.0,207.6 418.4,212.5 418.8,208.5 419.2,209.9 419.6,210.7 420.0,209.4 420.4,210.4 420.8,207.1 421.2,210.6 421.6,208.1 422.0,209.6 422.4,208.8 422.8,204.8 423.2,207.2 423.6,208.4 424.0,210.1 424.4,208.3 424.8,208.2 425.2,205.7 425.6,209.3 426.0,210.5 426.4,207.9 426.8,207.5 427.2,205.5 427.6,209.2 428.0,211.8 428.4,209.0 428.8,209.2 429.2,208.7 429.6,206.5 430.0,209.9 430.4,206.2 430.8,207.7 431.2,208.5 431.6,209.4 432.0,208.8 432.4,209.0 432.8,207.2 433.2,206.4 433.6,206.9 434.0,207.4 434.4,206.6 434.8,206.7 435.2,207.8 435.6,205.9 436.0,206.7 436.4,206.4 436.8,209.0 437.2,209.4 437.6,211.7 438.0,206.8 438.4,208.1 438.8,210.3 439.2,208.8 439.6,208.7 440.0,211.6 440.4,208.8 440.8,207.6 441.2,207.4 441.6,209.8 442.0,209.8 442.4,207.5 442.8,208.0 443.2,210.2 443.6,210.3 444.0,208.6 444.4,210.4 444.8,210.3 445.2,207.0 445.6,209.0 446.0,210.0 446.4,207.7 446.8,206.3 447.2,208.7 447.6,210.0 448.0,211.0 448.4,205.7 448.8,212.1 449.2,206.8 449.6,209.5 450.0,209.7 450.4,209.2 450.8,207.8 451.2,205.5 451.6,208.1 452.0,206.0 452.4,206.0 452.8,210.3 453.2,207.1 453.6,208.3 454.0,204.2 454.4,207.1 454.8,206.9 455.2,206.4 455.6,203.7 456.0,201.5 456.4,202.1 456.8,198.7 457.2,198.4 457.6,199.9 458.0,197.6 458.4,197.7 458.8,196.7 459.2,198.4 459.6,196.4 460.0,193.4 460.4,193.7 460.8,189.7 461.2,188.8 461.6,188.7 462.0,184.0 462.4,184.9 462.8,179.7 463.2,179.4 463.6,179.1 464.0,173.6 464.4,172.6 464.8,168.8 465.2,166.2 465.6,163.8 466.0,164.9 466.4,161.7 466.8,158.4 467.2,155.3 467.6,153.3 468.0,149.9 468.4,146.8 468.8,142.7 469.2,138.5 469.6,134.3 470.0,129.8 470.4,125.7 470.8,121.0 471.2,117.3 471.6,113.0 472.0,109.9 472.4,106.7 472.8,104.6 473.2,102.3 473.6,98.7 474.0,95.9 474.4,92.6 474.8,89.9 475.2,86.5 475.6,81.9 476.0,76.6 476.4,74.0 476.8,70.3 477.2,70.4 477.6,68.3 478.0,66.2 478.4,70.4 478.8,69.8 479.2,68.9 479.6,71.3 480.0,74.3 480.4,77.6 480.8,80.5 481.2,84.5 481.6,88.5 482.0,91.4 482.4,94.3 482.8,95.9 483.2,99.0 483.6,99.0 484.0,101.3 484.4,101.8 484.8,103.6 485.2,106.2 485.6,104.8 486.0,104.7 486.4,102.1 486.8,98.7 487.2,95.4 487.6,91.6 488.0,88.0 488.4,84.2 488.8,79.2 489.2,73.1 489.6,65.8 490.0,56.2 490.4,48.6 490.8,43.1 491.2,38.6 491.6,33.6 492.0,30.4 492.4,28.5 492.8,27.4 493.2,29.0 493.6,32.1 494.0,38.9 494.4,48.8 494.8,62.0 495.2,77.9 495.6,97.2 496.0,110.2 496.4,119.5 496.8,126.3 497.2,134.3 497.6,141.7 498.0,150.3 498.4,162.2 498.8,171.7 499.2,178.9 499.6,178.7 500.0,184.9 500.4,188.8 500.8,190.4 501.2,192.8 501.6,195.1 502.0,194.0 502.4,196.6 502.8,195.8 503.2,196.9 503.6,197.7 504.0,199.1 504.4,200.0 504.8,201.0 505.2,198.5 505.6,204.1 506.0,203.1 506.4,202.8 506.8,201.3 507.2,202.7 507.6,203.2 508.0,203.1 508.4,200.0 508.8,204.0 509.2,207.6 509.6,200.3 510.0,204.9 510.4,204.1 510.8,203.5 511.2,205.9 511.6,202.0 512.0,204.3 512.4,206.5 512.8,203.9 513.2,203.7 513.6,204.7 514.0,203.9 514.4,207.1 514.8,203.3 515.2,206.2 515.6,203.0 516.0,206.1 516.4,204.9 516.8,201.1 517.2,205.2 517.6,203.6 518.0,204.6 518.4,207.8 518.8,203.7 519.2,203.8 519.6,207.8 520.0,205.8 520.4,208.1 520.8,206.2 521.2,206.1 521.6,205.7 522.0,207.8 522.4,207.4 522.8,206.0 523.2,206.1 523.6,205.9 524.0,205.3 524.4,209.2 524.8,206.3 525.2,205.2 525.6,205.7 526.0,207.6 526.4,207.5 526.8,206.4 527.2,205.7 527.6,206.8 528.0,204.4 528.4,205.0 528.8,208.2 529.2,206.4 529.6,207.8 530.0,209.1 530.4,208.4 530.8,207.5 531.2,210.7 531.6,208.6 532.0,207.2 532.4,208.8 532.8,208.4 533.2,206.6 533.6,208.0 534.0,207.7 534.4,205.0 534.8,207.7 535.2,212.4 535.6,207.4 536.0,205.6 536.4,207.5 536.8,208.0 537.2,208.2 537.6,206.4 538.0,209.0 538.4,206.3 538.8,207.8 539.2,210.1 539.6,207.1 540.0,207.4 540.4,209.8 540.8,207.6 541.2,207.7 541.6,208.5 542.0,210.2 542.4,204.9 542.8,206.9 543.2,206.7 543.6,206.6 544.0,206.9 544.4,206.9 544.8,208.7 545.2,206.9 545.6,208.4 546.0,208.8 546.4,207.1 546.8,208.3 547.2,210.6 547.6,208.6 548.0,207.1 548.4,207.9 548.8,206.6 549.2,206.0 549.6,209.2 550.0,206.6 550.4,207.5 550.8,209.3 551.2,206.9 551.6,207.8 552.0,206.0 552.4,206.2 552.8,206.5 553.2,210.1 553.6,208.6 554.0,205.8 554.4,205.5 554.8,205.7 555.2,206.5 555.6,205.5 556.0,207.0 556.4,204.8 556.8,206.2 557.2,204.2 557.6,204.2 558.0,200.9 558.4,202.1 558.8,201.7 559.2,201.0 559.6,197.6 560.0,202.0 560.4,199.8 560.8,199.5 561.2,199.6 561.6,199.5 562.0,200.4 562.4,197.4 562.8,197.8 563.2,199.2 563.6,199.4 564.0,198.4 564.4,197.9 564.8,197.4 565.2,198.5 565.6,200.5 566.0,196.5 566.4,200.8 566.8,199.5 567.2,197.1 567.6,199.1 568.0,195.1 568.4,194.5 568.8,195.1 569.2,196.5 569.6,196.4 570.0,195.9 570.4,196.8 570.8,192.7 571.2,191.5 571.6,193.4 572.0,194.4 572.4,194.5 572.8,192.9 573.2,192.2 573.6,192.5 574.0,194.0 574.4,194.7 574.8,194.4 575.2,191.4 575.6,191.5 576.0,191.0 576.4,193.3 576.8,188.4 577.2,194.3 577.6,190.8 578.0,190.0 578.4,191.9 578.8,193.0 579.2,191.5 579.6,192.7 580.0,190.8 580.4,192.7 580.8,192.6 581.2,189.8 581.6,192.7 582.0,190.0 582.4,189.7 582.8,187.6 583.2,188.9 583.6,191.2 584.0,187.1 584.4,191.2 584.8,190.8 585.2,190.9 585.6,186.4 586.0,190.7 586.4,192.3 586.8,189.9 587.2,191.8 587.6,187.5 588.0,193.4 588.4,191.3 588.8,194.3 589.2,189.7 589.6,194.6 590.0,193.2 590.4,195.3 590.8,192.5 591.2,193.3 591.6,198.6 592.0,193.4 592.4,193.8 592.8,194.8 593.2,193.8 593.6,197.9 594.0,199.0 594.4,195.0 594.8,193.4 595.2,198.6 595.6,198.7 596.0,198.4 596.4,199.1 596.8,195.8 597.2,197.1 597.6,195.2 598.0,195.3 598.4,199.6 598.8,196.9 599.2,202.1 599.6,200.4 600.0,197.4 600.4,200.0 600.8,201.9 601.2,201.3 601.6,197.0 602.0,199.8 602.4,201.6 602.8,198.6 603.2,198.3 603.6,201.5 604.0,200.2 604.4,198.4 604.8,199.8 605.2,199.5 605.6,201.4 606.0,201.6 606.4,203.6 606.8,203.5 607.2,200.9 607.6,204.1 608.0,205.3 608.4,205.0 608.8,206.2 609.2,204.4 609.6,204.2 610.0,207.1 610.4,204.6 610.8,204.8 611.2,208.0 611.6,205.8 612.0,206.6 612.4,205.3 612.8,205.5 613.2,205.9 613.6,207.2 614.0,208.4 614.4,204.6 614.8,209.1 615.2,206.3 615.6,206.5 616.0,211.0 616.4,208.0 616.8,205.9 617.2,210.8 617.6,206.9 618.0,208.5 618.4,208.5 618.8,210.2 619.2,207.5 619.6,209.7 620.0,207.1 620.4,209.9 620.8,207.1 621.2,207.7 621.6,211.0 622.0,208.7 622.4,208.4 622.8,211.6 623.2,208.8 623.6,210.5 624.0,209.4 624.4,206.6 624.8,209.9 625.2,210.1 625.6,207.5 626.0,207.3 626.4,208.5 626.8,208.2 627.2,206.7 627.6,208.8 628.0,205.0 628.4,207.2 628.8,207.2 629.2,207.3 629.6,208.0 630.0,205.7 630.4,210.0 630.8,207.0 631.2,206.2 631.6,205.1 632.0,205.2 632.4,207.4 632.8,205.4 633.2,206.8 633.6,208.2 634.0,208.1 634.4,208.9 634.8,206.1 635.2,204.9 635.6,208.0 636.0,206.9 636.4,208.1 636.8,206.4 637.2,208.2 637.6,207.7 638.0,207.4 638.4,207.1 638.8,206.9 639.2,206.7 639.6,206.6 640.0,207.8 640.4,205.5 640.8,208.9 641.2,206.1 641.6,207.7 642.0,206.1 642.4,205.8 642.8,209.3 643.2,205.7 643.6,204.3 644.0,205.1 644.4,205.7 644.8,209.5 645.2,206.5 645.6,207.6 646.0,204.7 646.4,206.8 646.8,207.3 647.2,209.0 647.6,205.2 648.0,207.2 648.4,206.8 648.8,204.8 649.2,206.4 649.6,206.0 650.0,202.9 650.4,207.4 650.8,207.3 651.2,205.9 651.6,204.6 652.0,208.8 652.4,205.5 652.8,208.2 653.2,208.8 653.6,205.9 654.0,207.9 654.4,206.3 654.8,206.6 655.2,206.6 655.6,206.7 656.0,208.3 656.4,206.8 656.8,206.3 657.2,206.1" fill="none" stroke="#000" stroke-width="1.55" stroke-linejoin="round"/>
<rect x="389.1" y="1.6" width="268.70" height="217.40" fill="none" stroke="#000" stroke-width="1.3"/>
<path d="M390.67,219.0v-3.6M390.67,1.6v3.6M431.83,219.0v-3.6M431.83,1.6v3.6M473.00,219.0v-3.6M473.00,1.6v3.6M514.16,219.0v-3.6M514.16,1.6v3.6M555.33,219.0v-3.6M555.33,1.6v3.6M596.49,219.0v-3.6M596.49,1.6v3.6M637.65,219.0v-3.6M637.65,1.6v3.6M411.25,219.0v-2.2M411.25,1.6v2.2M452.42,219.0v-2.2M452.42,1.6v2.2M493.58,219.0v-2.2M493.58,1.6v2.2M534.74,219.0v-2.2M534.74,1.6v2.2M575.91,219.0v-2.2M575.91,1.6v2.2M617.07,219.0v-2.2M617.07,1.6v2.2M389.1,13.70h3.6M657.8,13.70h-3.6M389.1,38.60h3.6M657.8,38.60h-3.6M389.1,63.50h3.6M657.8,63.50h-3.6M389.1,88.40h3.6M657.8,88.40h-3.6M389.1,113.30h3.6M657.8,113.30h-3.6M389.1,138.20h3.6M657.8,138.20h-3.6M389.1,163.10h3.6M657.8,163.10h-3.6M389.1,188.00h3.6M657.8,188.00h-3.6M389.1,212.90h3.6M657.8,212.90h-3.6M389.1,26.15h2.2M657.8,26.15h-2.2M389.1,51.05h2.2M657.8,51.05h-2.2M389.1,75.95h2.2M657.8,75.95h-2.2M389.1,100.85h2.2M657.8,100.85h-2.2M389.1,125.75h2.2M657.8,125.75h-2.2M389.1,150.65h2.2M657.8,150.65h-2.2M389.1,175.55h2.2M657.8,175.55h-2.2M389.1,200.45h2.2M657.8,200.45h-2.2" stroke="#000" stroke-width="1.3" fill="none"/>
<defs><filter id="mot" x="0" y="0" width="100%" height="100%"><feTurbulence type="fractalNoise" baseFrequency="0.22" numOctaves="3" seed="5"/><feColorMatrix type="matrix" values="0 0 0 0 0.2  0 0 0 0 0.2  0 0 0 0 0.1  -2.4 0 0 0 1.25"/><feComposite in2="SourceAlpha" operator="in"/></filter><filter id="bl" x="-20%" y="-20%" width="140%" height="140%"><feGaussianBlur stdDeviation="0.45"/></filter><filter id="bl2" x="-20%" y="-20%" width="140%" height="140%"><feGaussianBlur stdDeviation="1.1"/></filter><linearGradient id="ig" x1="0" y1="0" x2="1" y2="0"><stop offset="0" stop-color="#b1a962"/><stop offset="0.4" stop-color="#aaa15c"/><stop offset="1" stop-color="#9f9756"/></linearGradient><radialGradient id="tr" cx="1" cy="0" r="0.55"><stop offset="0" stop-color="#3a3518" stop-opacity="0.3"/><stop offset="1" stop-color="#3a3518" stop-opacity="0"/></radialGradient></defs>
<rect x="504.0" y="28.4" width="150.6" height="112.6" fill="url(#ig)"/>
<rect x="504.0" y="28.4" width="150.6" height="112.6" fill="#000" filter="url(#mot)" opacity="0.3"/>
<rect x="504.0" y="28.4" width="150.6" height="112.6" fill="url(#tr)"/>
<clipPath id="ic"><rect x="504.0" y="28.4" width="150.6" height="112.6"/></clipPath>
<g clip-path="url(#ic)"><g filter="url(#bl2)">
<circle cx="564.1" cy="45.9" r="2.12" fill="#26240f" fill-opacity="0.21"/>
<circle cx="562.6" cy="43.0" r="2.51" fill="#26240f" fill-opacity="0.21"/>
<circle cx="565.5" cy="43.4" r="2.54" fill="#26240f" fill-opacity="0.21"/>
<circle cx="559.0" cy="46.3" r="2.01" fill="#26240f" fill-opacity="0.21"/>
<circle cx="565.8" cy="43.3" r="1.57" fill="#26240f" fill-opacity="0.21"/>
<circle cx="565.3" cy="45.0" r="2.01" fill="#26240f" fill-opacity="0.21"/>
<circle cx="563.6" cy="44.7" r="2.58" fill="#26240f" fill-opacity="0.21"/>
<circle cx="559.9" cy="44.2" r="1.98" fill="#26240f" fill-opacity="0.21"/>
<circle cx="598.5" cy="60.5" r="2.31" fill="#26240f" fill-opacity="0.24"/>
<circle cx="600.7" cy="58.8" r="2.14" fill="#26240f" fill-opacity="0.24"/>
<circle cx="607.3" cy="61.9" r="2.06" fill="#26240f" fill-opacity="0.24"/>
<circle cx="605.7" cy="64.3" r="2.17" fill="#26240f" fill-opacity="0.24"/>
<circle cx="606.2" cy="65.1" r="3.41" fill="#26240f" fill-opacity="0.24"/>
<circle cx="601.9" cy="63.4" r="2.26" fill="#26240f" fill-opacity="0.24"/>
<circle cx="608.0" cy="59.3" r="3.42" fill="#26240f" fill-opacity="0.24"/>
<circle cx="601.9" cy="58.2" r="1.95" fill="#26240f" fill-opacity="0.24"/>
<circle cx="649.2" cy="33.3" r="2.44" fill="#26240f" fill-opacity="0.27"/>
<circle cx="649.8" cy="38.3" r="1.80" fill="#26240f" fill-opacity="0.27"/>
<circle cx="650.2" cy="31.2" r="2.21" fill="#26240f" fill-opacity="0.27"/>
<circle cx="649.4" cy="29.6" r="2.01" fill="#26240f" fill-opacity="0.27"/>
<circle cx="647.4" cy="38.8" r="2.45" fill="#26240f" fill-opacity="0.27"/>
<circle cx="648.0" cy="37.2" r="1.84" fill="#26240f" fill-opacity="0.27"/>
<circle cx="649.3" cy="35.6" r="1.79" fill="#26240f" fill-opacity="0.27"/>
<circle cx="646.8" cy="39.9" r="1.89" fill="#26240f" fill-opacity="0.27"/>
<circle cx="580.2" cy="79.6" r="2.27" fill="#26240f" fill-opacity="0.18"/>
<circle cx="583.7" cy="70.6" r="1.66" fill="#26240f" fill-opacity="0.18"/>
<circle cx="581.3" cy="76.6" r="2.57" fill="#26240f" fill-opacity="0.18"/>
<circle cx="582.8" cy="71.9" r="1.92" fill="#26240f" fill-opacity="0.18"/>
<circle cx="582.8" cy="70.5" r="1.45" fill="#26240f" fill-opacity="0.18"/>
<circle cx="578.1" cy="78.0" r="1.69" fill="#26240f" fill-opacity="0.18"/>
<circle cx="584.1" cy="69.8" r="2.05" fill="#26240f" fill-opacity="0.18"/>
<circle cx="581.8" cy="83.4" r="2.34" fill="#26240f" fill-opacity="0.18"/>
<circle cx="592.0" cy="112.8" r="3.23" fill="#26240f" fill-opacity="0.19"/>
<circle cx="594.2" cy="110.0" r="3.52" fill="#26240f" fill-opacity="0.19"/>
<circle cx="596.2" cy="111.7" r="2.16" fill="#26240f" fill-opacity="0.19"/>
<circle cx="589.8" cy="110.7" r="3.90" fill="#26240f" fill-opacity="0.19"/>
<circle cx="594.2" cy="108.1" r="2.74" fill="#26240f" fill-opacity="0.19"/>
<circle cx="597.1" cy="117.7" r="3.25" fill="#26240f" fill-opacity="0.19"/>
<circle cx="593.1" cy="108.1" r="2.24" fill="#26240f" fill-opacity="0.19"/>
<circle cx="605.4" cy="109.8" r="2.17" fill="#26240f" fill-opacity="0.19"/>
<circle cx="630.7" cy="128.8" r="3.25" fill="#26240f" fill-opacity="0.25"/>
<circle cx="626.4" cy="131.5" r="2.73" fill="#26240f" fill-opacity="0.25"/>
<circle cx="628.1" cy="133.5" r="2.81" fill="#26240f" fill-opacity="0.25"/>
<circle cx="629.5" cy="125.2" r="2.26" fill="#26240f" fill-opacity="0.25"/>
<circle cx="631.6" cy="129.4" r="3.73" fill="#26240f" fill-opacity="0.25"/>
<circle cx="630.4" cy="134.6" r="3.55" fill="#26240f" fill-opacity="0.25"/>
<circle cx="632.6" cy="130.7" r="2.94" fill="#26240f" fill-opacity="0.25"/>
<circle cx="624.7" cy="129.7" r="3.39" fill="#26240f" fill-opacity="0.25"/>
<circle cx="642.8" cy="56.9" r="1.51" fill="#26240f" fill-opacity="0.21"/>
<circle cx="643.2" cy="54.0" r="1.37" fill="#26240f" fill-opacity="0.21"/>
<circle cx="644.5" cy="58.7" r="1.53" fill="#26240f" fill-opacity="0.21"/>
<circle cx="642.6" cy="55.9" r="1.48" fill="#26240f" fill-opacity="0.21"/>
<circle cx="645.7" cy="59.9" r="2.00" fill="#26240f" fill-opacity="0.21"/>
<circle cx="642.2" cy="57.6" r="1.66" fill="#26240f" fill-opacity="0.21"/>
<circle cx="645.3" cy="57.9" r="1.77" fill="#26240f" fill-opacity="0.21"/>
<circle cx="644.4" cy="54.6" r="1.33" fill="#26240f" fill-opacity="0.21"/>
<circle cx="639.5" cy="49.2" r="0.90" fill="#26240f" fill-opacity="0.18"/>
<circle cx="637.4" cy="50.7" r="1.46" fill="#26240f" fill-opacity="0.18"/>
<circle cx="638.4" cy="50.4" r="1.44" fill="#26240f" fill-opacity="0.18"/>
<circle cx="637.4" cy="49.8" r="1.13" fill="#26240f" fill-opacity="0.18"/>
<circle cx="638.5" cy="50.0" r="1.39" fill="#26240f" fill-opacity="0.18"/>
<circle cx="636.2" cy="51.0" r="1.46" fill="#26240f" fill-opacity="0.18"/>
<circle cx="637.0" cy="49.8" r="0.92" fill="#26240f" fill-opacity="0.18"/>
<circle cx="638.4" cy="49.4" r="1.40" fill="#26240f" fill-opacity="0.18"/>
<circle cx="602.3" cy="37.8" r="1.84" fill="#26240f" fill-opacity="0.21"/>
<circle cx="601.6" cy="36.0" r="1.38" fill="#26240f" fill-opacity="0.21"/>
<circle cx="607.6" cy="33.9" r="1.46" fill="#26240f" fill-opacity="0.21"/>
<circle cx="605.1" cy="34.0" r="1.17" fill="#26240f" fill-opacity="0.21"/>
<circle cx="606.0" cy="36.6" r="1.53" fill="#26240f" fill-opacity="0.21"/>
<circle cx="605.9" cy="36.2" r="1.83" fill="#26240f" fill-opacity="0.21"/>
<circle cx="603.2" cy="35.8" r="1.11" fill="#26240f" fill-opacity="0.21"/>
<circle cx="602.1" cy="37.1" r="1.09" fill="#26240f" fill-opacity="0.21"/>
<circle cx="596.5" cy="52.9" r="0.97" fill="#26240f" fill-opacity="0.18"/>
<circle cx="599.3" cy="51.9" r="1.41" fill="#26240f" fill-opacity="0.18"/>
<circle cx="597.4" cy="52.4" r="1.07" fill="#26240f" fill-opacity="0.18"/>
<circle cx="594.9" cy="52.7" r="1.20" fill="#26240f" fill-opacity="0.18"/>
<circle cx="597.1" cy="50.8" r="1.60" fill="#26240f" fill-opacity="0.18"/>
<circle cx="596.7" cy="53.4" r="1.15" fill="#26240f" fill-opacity="0.18"/>
<circle cx="598.0" cy="53.7" r="0.92" fill="#26240f" fill-opacity="0.18"/>
<circle cx="595.4" cy="52.7" r="1.43" fill="#26240f" fill-opacity="0.18"/>
<circle cx="584.5" cy="57.3" r="0.91" fill="#26240f" fill-opacity="0.18"/>
<circle cx="584.0" cy="55.3" r="1.54" fill="#26240f" fill-opacity="0.18"/>
<circle cx="584.8" cy="56.6" r="1.43" fill="#26240f" fill-opacity="0.18"/>
<circle cx="586.9" cy="56.5" r="1.31" fill="#26240f" fill-opacity="0.18"/>
<circle cx="586.1" cy="57.8" r="1.48" fill="#26240f" fill-opacity="0.18"/>
<circle cx="584.6" cy="57.8" r="0.96" fill="#26240f" fill-opacity="0.18"/>
<circle cx="585.9" cy="56.3" r="1.38" fill="#26240f" fill-opacity="0.18"/>
<circle cx="586.4" cy="57.4" r="1.09" fill="#26240f" fill-opacity="0.18"/>
<circle cx="614.8" cy="73.9" r="1.11" fill="#26240f" fill-opacity="0.18"/>
<circle cx="612.7" cy="73.9" r="1.28" fill="#26240f" fill-opacity="0.18"/>
<circle cx="613.2" cy="73.9" r="0.80" fill="#26240f" fill-opacity="0.18"/>
<circle cx="612.1" cy="73.3" r="0.90" fill="#26240f" fill-opacity="0.18"/>
<circle cx="613.1" cy="75.6" r="0.94" fill="#26240f" fill-opacity="0.18"/>
<circle cx="612.8" cy="75.4" r="0.93" fill="#26240f" fill-opacity="0.18"/>
<circle cx="614.3" cy="75.1" r="1.24" fill="#26240f" fill-opacity="0.18"/>
<circle cx="613.4" cy="74.0" r="1.18" fill="#26240f" fill-opacity="0.18"/>
<circle cx="653.1" cy="51.2" r="1.41" fill="#26240f" fill-opacity="0.18"/>
<circle cx="651.5" cy="48.3" r="1.77" fill="#26240f" fill-opacity="0.18"/>
<circle cx="650.1" cy="51.0" r="1.47" fill="#26240f" fill-opacity="0.18"/>
<circle cx="652.8" cy="48.2" r="1.38" fill="#26240f" fill-opacity="0.18"/>
<circle cx="650.7" cy="48.7" r="1.06" fill="#26240f" fill-opacity="0.18"/>
<circle cx="649.5" cy="51.4" r="1.83" fill="#26240f" fill-opacity="0.18"/>
<circle cx="649.3" cy="51.2" r="1.07" fill="#26240f" fill-opacity="0.18"/>
<circle cx="651.3" cy="43.5" r="1.25" fill="#26240f" fill-opacity="0.18"/>
<circle cx="530.6" cy="72.0" r="0.92" fill="#26240f" fill-opacity="0.15"/>
<circle cx="529.1" cy="71.4" r="1.23" fill="#26240f" fill-opacity="0.15"/>
<circle cx="533.9" cy="71.3" r="1.05" fill="#26240f" fill-opacity="0.15"/>
<circle cx="530.0" cy="72.0" r="0.89" fill="#26240f" fill-opacity="0.15"/>
<circle cx="530.2" cy="71.3" r="1.03" fill="#26240f" fill-opacity="0.15"/>
<circle cx="533.6" cy="73.1" r="0.91" fill="#26240f" fill-opacity="0.15"/>
<circle cx="529.8" cy="71.2" r="0.83" fill="#26240f" fill-opacity="0.15"/>
<circle cx="529.8" cy="73.7" r="1.27" fill="#26240f" fill-opacity="0.15"/>
</g></g>
<g filter="url(#bl)">
<circle cx="508.1" cy="29.8" r="0.55" fill="#1f1e0e" fill-opacity="0.28"/>
<circle cx="507.8" cy="30.5" r="0.66" fill="#1f1e0e" fill-opacity="0.28"/>
<circle cx="507.4" cy="30.5" r="0.71" fill="#1f1e0e" fill-opacity="0.28"/>
<circle cx="517.8" cy="30.5" r="0.69" fill="#1f1e0e" fill-opacity="0.48"/>
<circle cx="517.5" cy="29.4" r="0.70" fill="#1f1e0e" fill-opacity="0.48"/>
<circle cx="518.1" cy="30.8" r="0.75" fill="#1f1e0e" fill-opacity="0.48"/>
<circle cx="511.4" cy="34.0" r="0.48" fill="#1f1e0e" fill-opacity="0.24"/>
<circle cx="511.1" cy="34.1" r="0.44" fill="#1f1e0e" fill-opacity="0.24"/>
<circle cx="512.1" cy="34.5" r="0.50" fill="#1f1e0e" fill-opacity="0.24"/>
<circle cx="538.2" cy="32.6" r="0.65" fill="#1f1e0e" fill-opacity="0.52"/>
<circle cx="540.1" cy="32.2" r="0.51" fill="#1f1e0e" fill-opacity="0.52"/>
<circle cx="538.6" cy="32.6" r="0.61" fill="#1f1e0e" fill-opacity="0.52"/>
<circle cx="546.2" cy="33.3" r="0.68" fill="#1f1e0e" fill-opacity="0.28"/>
<circle cx="546.2" cy="33.1" r="0.63" fill="#1f1e0e" fill-opacity="0.28"/>
<circle cx="546.2" cy="32.8" r="0.46" fill="#1f1e0e" fill-opacity="0.28"/>
<circle cx="551.2" cy="34.5" r="0.63" fill="#1f1e0e" fill-opacity="0.40"/>
<circle cx="550.6" cy="34.2" r="0.53" fill="#1f1e0e" fill-opacity="0.40"/>
<circle cx="550.5" cy="34.6" r="0.62" fill="#1f1e0e" fill-opacity="0.40"/>
<circle cx="536.6" cy="40.0" r="0.59" fill="#1f1e0e" fill-opacity="0.48"/>
<circle cx="538.2" cy="39.0" r="0.62" fill="#1f1e0e" fill-opacity="0.48"/>
<circle cx="537.0" cy="40.5" r="0.76" fill="#1f1e0e" fill-opacity="0.48"/>
<circle cx="525.9" cy="44.1" r="0.87" fill="#1f1e0e" fill-opacity="0.52"/>
<circle cx="526.0" cy="43.4" r="0.54" fill="#1f1e0e" fill-opacity="0.52"/>
<circle cx="526.0" cy="43.1" r="0.82" fill="#1f1e0e" fill-opacity="0.52"/>
<circle cx="546.0" cy="38.0" r="0.60" fill="#1f1e0e" fill-opacity="0.36"/>
<circle cx="546.0" cy="37.8" r="0.67" fill="#1f1e0e" fill-opacity="0.36"/>
<circle cx="546.5" cy="38.7" r="0.46" fill="#1f1e0e" fill-opacity="0.36"/>
<circle cx="506.8" cy="42.3" r="0.61" fill="#1f1e0e" fill-opacity="0.24"/>
<circle cx="507.4" cy="42.6" r="0.50" fill="#1f1e0e" fill-opacity="0.24"/>
<circle cx="506.9" cy="41.8" r="0.69" fill="#1f1e0e" fill-opacity="0.24"/>
<circle cx="530.2" cy="47.7" r="0.48" fill="#1f1e0e" fill-opacity="0.28"/>
<circle cx="530.8" cy="47.5" r="0.50" fill="#1f1e0e" fill-opacity="0.28"/>
<circle cx="531.8" cy="47.6" r="0.71" fill="#1f1e0e" fill-opacity="0.28"/>
<circle cx="528.3" cy="54.6" r="0.65" fill="#1f1e0e" fill-opacity="0.32"/>
<circle cx="527.9" cy="55.4" r="0.63" fill="#1f1e0e" fill-opacity="0.32"/>
<circle cx="528.2" cy="54.7" r="0.47" fill="#1f1e0e" fill-opacity="0.32"/>
<circle cx="507.4" cy="58.3" r="0.76" fill="#1f1e0e" fill-opacity="0.48"/>
<circle cx="507.3" cy="57.8" r="0.91" fill="#1f1e0e" fill-opacity="0.48"/>
<circle cx="508.5" cy="57.4" r="0.97" fill="#1f1e0e" fill-opacity="0.48"/>
<circle cx="510.1" cy="59.0" r="0.65" fill="#1f1e0e" fill-opacity="0.48"/>
<circle cx="510.5" cy="60.3" r="0.62" fill="#1f1e0e" fill-opacity="0.48"/>
<circle cx="509.7" cy="59.6" r="0.71" fill="#1f1e0e" fill-opacity="0.48"/>
<circle cx="532.3" cy="59.2" r="0.88" fill="#1f1e0e" fill-opacity="0.52"/>
<circle cx="532.8" cy="60.0" r="0.79" fill="#1f1e0e" fill-opacity="0.52"/>
<circle cx="530.6" cy="60.4" r="0.65" fill="#1f1e0e" fill-opacity="0.52"/>
<circle cx="539.8" cy="64.6" r="0.66" fill="#1f1e0e" fill-opacity="0.36"/>
<circle cx="539.4" cy="64.7" r="0.75" fill="#1f1e0e" fill-opacity="0.36"/>
<circle cx="540.3" cy="64.2" r="0.47" fill="#1f1e0e" fill-opacity="0.36"/>
<circle cx="522.1" cy="62.8" r="0.63" fill="#1f1e0e" fill-opacity="0.32"/>
<circle cx="522.2" cy="63.3" r="0.69" fill="#1f1e0e" fill-opacity="0.32"/>
<circle cx="521.8" cy="62.7" r="0.62" fill="#1f1e0e" fill-opacity="0.32"/>
<circle cx="585.4" cy="33.9" r="0.55" fill="#1f1e0e" fill-opacity="0.32"/>
<circle cx="584.8" cy="34.7" r="0.71" fill="#1f1e0e" fill-opacity="0.32"/>
<circle cx="585.0" cy="35.1" r="0.65" fill="#1f1e0e" fill-opacity="0.32"/>
<circle cx="589.3" cy="42.4" r="0.89" fill="#1f1e0e" fill-opacity="0.48"/>
<circle cx="589.9" cy="43.0" r="0.71" fill="#1f1e0e" fill-opacity="0.48"/>
<circle cx="588.9" cy="42.6" r="0.77" fill="#1f1e0e" fill-opacity="0.48"/>
<circle cx="597.7" cy="46.3" r="0.87" fill="#1f1e0e" fill-opacity="0.48"/>
<circle cx="597.9" cy="46.6" r="0.70" fill="#1f1e0e" fill-opacity="0.48"/>
<circle cx="598.1" cy="45.9" r="0.86" fill="#1f1e0e" fill-opacity="0.48"/>
<circle cx="596.3" cy="53.4" r="0.63" fill="#1f1e0e" fill-opacity="0.48"/>
<circle cx="595.2" cy="54.3" r="0.75" fill="#1f1e0e" fill-opacity="0.48"/>
<circle cx="595.9" cy="52.6" r="0.72" fill="#1f1e0e" fill-opacity="0.48"/>
<circle cx="598.3" cy="55.4" r="0.62" fill="#1f1e0e" fill-opacity="0.48"/>
<circle cx="596.6" cy="54.3" r="0.69" fill="#1f1e0e" fill-opacity="0.48"/>
<circle cx="596.9" cy="55.5" r="0.61" fill="#1f1e0e" fill-opacity="0.48"/>
<circle cx="585.2" cy="57.5" r="0.87" fill="#1f1e0e" fill-opacity="0.56"/>
<circle cx="584.3" cy="56.2" r="0.90" fill="#1f1e0e" fill-opacity="0.56"/>
<circle cx="585.5" cy="57.6" r="1.02" fill="#1f1e0e" fill-opacity="0.56"/>
<circle cx="560.5" cy="58.9" r="0.77" fill="#1f1e0e" fill-opacity="0.40"/>
<circle cx="560.5" cy="58.9" r="0.72" fill="#1f1e0e" fill-opacity="0.40"/>
<circle cx="561.8" cy="59.8" r="0.72" fill="#1f1e0e" fill-opacity="0.40"/>
<circle cx="575.6" cy="41.5" r="0.58" fill="#1f1e0e" fill-opacity="0.28"/>
<circle cx="575.9" cy="41.6" r="0.53" fill="#1f1e0e" fill-opacity="0.28"/>
<circle cx="575.4" cy="41.0" r="0.41" fill="#1f1e0e" fill-opacity="0.28"/>
<circle cx="581.7" cy="36.8" r="0.59" fill="#1f1e0e" fill-opacity="0.24"/>
<circle cx="580.7" cy="36.3" r="0.60" fill="#1f1e0e" fill-opacity="0.24"/>
<circle cx="581.1" cy="36.1" r="0.43" fill="#1f1e0e" fill-opacity="0.24"/>
<circle cx="610.7" cy="45.3" r="0.52" fill="#1f1e0e" fill-opacity="0.44"/>
<circle cx="611.3" cy="46.3" r="0.45" fill="#1f1e0e" fill-opacity="0.44"/>
<circle cx="611.9" cy="45.6" r="0.48" fill="#1f1e0e" fill-opacity="0.44"/>
<circle cx="612.6" cy="49.2" r="0.51" fill="#1f1e0e" fill-opacity="0.36"/>
<circle cx="612.1" cy="50.3" r="0.54" fill="#1f1e0e" fill-opacity="0.36"/>
<circle cx="611.7" cy="50.1" r="0.44" fill="#1f1e0e" fill-opacity="0.36"/>
<circle cx="636.8" cy="50.4" r="0.65" fill="#1f1e0e" fill-opacity="0.48"/>
<circle cx="637.5" cy="48.6" r="0.64" fill="#1f1e0e" fill-opacity="0.48"/>
<circle cx="636.1" cy="48.0" r="0.84" fill="#1f1e0e" fill-opacity="0.48"/>
<circle cx="631.2" cy="58.9" r="0.48" fill="#1f1e0e" fill-opacity="0.36"/>
<circle cx="630.1" cy="59.0" r="0.62" fill="#1f1e0e" fill-opacity="0.36"/>
<circle cx="630.9" cy="58.5" r="0.52" fill="#1f1e0e" fill-opacity="0.36"/>
<circle cx="649.1" cy="35.9" r="0.61" fill="#1f1e0e" fill-opacity="0.40"/>
<circle cx="650.0" cy="36.2" r="0.48" fill="#1f1e0e" fill-opacity="0.40"/>
<circle cx="648.9" cy="36.6" r="0.65" fill="#1f1e0e" fill-opacity="0.40"/>
<circle cx="530.3" cy="72.1" r="0.87" fill="#1f1e0e" fill-opacity="0.60"/>
<circle cx="531.3" cy="72.7" r="1.16" fill="#1f1e0e" fill-opacity="0.60"/>
<circle cx="528.6" cy="72.9" r="1.18" fill="#1f1e0e" fill-opacity="0.60"/>
<circle cx="511.3" cy="71.3" r="0.44" fill="#1f1e0e" fill-opacity="0.36"/>
<circle cx="510.6" cy="72.6" r="0.51" fill="#1f1e0e" fill-opacity="0.36"/>
<circle cx="511.1" cy="71.7" r="0.67" fill="#1f1e0e" fill-opacity="0.36"/>
<circle cx="517.8" cy="76.1" r="0.49" fill="#1f1e0e" fill-opacity="0.36"/>
<circle cx="518.8" cy="76.3" r="0.59" fill="#1f1e0e" fill-opacity="0.36"/>
<circle cx="518.6" cy="75.9" r="0.70" fill="#1f1e0e" fill-opacity="0.36"/>
<circle cx="522.7" cy="79.4" r="0.55" fill="#1f1e0e" fill-opacity="0.48"/>
<circle cx="523.0" cy="81.2" r="0.72" fill="#1f1e0e" fill-opacity="0.48"/>
<circle cx="523.0" cy="80.7" r="0.64" fill="#1f1e0e" fill-opacity="0.48"/>
<circle cx="510.4" cy="79.9" r="0.53" fill="#1f1e0e" fill-opacity="0.32"/>
<circle cx="512.4" cy="80.7" r="0.67" fill="#1f1e0e" fill-opacity="0.32"/>
<circle cx="511.1" cy="79.3" r="0.68" fill="#1f1e0e" fill-opacity="0.32"/>
<circle cx="542.3" cy="74.8" r="0.78" fill="#1f1e0e" fill-opacity="0.48"/>
<circle cx="542.4" cy="73.8" r="0.65" fill="#1f1e0e" fill-opacity="0.48"/>
<circle cx="542.6" cy="74.2" r="0.59" fill="#1f1e0e" fill-opacity="0.48"/>
<circle cx="539.2" cy="72.0" r="0.44" fill="#1f1e0e" fill-opacity="0.36"/>
<circle cx="538.2" cy="72.9" r="0.60" fill="#1f1e0e" fill-opacity="0.36"/>
<circle cx="538.6" cy="72.1" r="0.49" fill="#1f1e0e" fill-opacity="0.36"/>
<circle cx="550.9" cy="72.4" r="0.48" fill="#1f1e0e" fill-opacity="0.32"/>
<circle cx="552.1" cy="71.9" r="0.51" fill="#1f1e0e" fill-opacity="0.32"/>
<circle cx="551.7" cy="72.0" r="0.59" fill="#1f1e0e" fill-opacity="0.32"/>
<circle cx="516.4" cy="89.1" r="0.66" fill="#1f1e0e" fill-opacity="0.32"/>
<circle cx="515.6" cy="88.9" r="0.69" fill="#1f1e0e" fill-opacity="0.32"/>
<circle cx="516.3" cy="89.4" r="0.48" fill="#1f1e0e" fill-opacity="0.32"/>
<circle cx="523.0" cy="89.2" r="0.82" fill="#1f1e0e" fill-opacity="0.48"/>
<circle cx="523.3" cy="89.0" r="0.85" fill="#1f1e0e" fill-opacity="0.48"/>
<circle cx="524.2" cy="89.5" r="0.72" fill="#1f1e0e" fill-opacity="0.48"/>
<circle cx="511.7" cy="92.8" r="0.53" fill="#1f1e0e" fill-opacity="0.48"/>
<circle cx="510.9" cy="92.3" r="0.51" fill="#1f1e0e" fill-opacity="0.48"/>
<circle cx="510.7" cy="92.7" r="0.58" fill="#1f1e0e" fill-opacity="0.48"/>
<circle cx="518.2" cy="93.9" r="0.73" fill="#1f1e0e" fill-opacity="0.52"/>
<circle cx="518.1" cy="94.0" r="0.80" fill="#1f1e0e" fill-opacity="0.52"/>
<circle cx="518.2" cy="95.2" r="0.73" fill="#1f1e0e" fill-opacity="0.52"/>
<circle cx="527.1" cy="91.4" r="0.44" fill="#1f1e0e" fill-opacity="0.36"/>
<circle cx="527.4" cy="92.4" r="0.48" fill="#1f1e0e" fill-opacity="0.36"/>
<circle cx="527.2" cy="92.7" r="0.59" fill="#1f1e0e" fill-opacity="0.36"/>
<circle cx="545.5" cy="85.5" r="0.52" fill="#1f1e0e" fill-opacity="0.32"/>
<circle cx="545.7" cy="84.6" r="0.43" fill="#1f1e0e" fill-opacity="0.32"/>
<circle cx="546.5" cy="83.9" r="0.52" fill="#1f1e0e" fill-opacity="0.32"/>
<circle cx="543.8" cy="91.3" r="0.64" fill="#1f1e0e" fill-opacity="0.32"/>
<circle cx="543.2" cy="91.8" r="0.55" fill="#1f1e0e" fill-opacity="0.32"/>
<circle cx="543.7" cy="91.1" r="0.59" fill="#1f1e0e" fill-opacity="0.32"/>
<circle cx="527.6" cy="99.5" r="0.82" fill="#1f1e0e" fill-opacity="0.48"/>
<circle cx="526.6" cy="99.0" r="0.52" fill="#1f1e0e" fill-opacity="0.48"/>
<circle cx="527.3" cy="99.4" r="0.72" fill="#1f1e0e" fill-opacity="0.48"/>
<circle cx="536.5" cy="99.4" r="0.59" fill="#1f1e0e" fill-opacity="0.36"/>
<circle cx="537.4" cy="98.9" r="0.61" fill="#1f1e0e" fill-opacity="0.36"/>
<circle cx="537.2" cy="99.4" r="0.60" fill="#1f1e0e" fill-opacity="0.36"/>
<circle cx="548.6" cy="99.9" r="0.76" fill="#1f1e0e" fill-opacity="0.48"/>
<circle cx="549.6" cy="100.3" r="0.68" fill="#1f1e0e" fill-opacity="0.48"/>
<circle cx="548.2" cy="100.4" r="0.77" fill="#1f1e0e" fill-opacity="0.48"/>
<circle cx="533.0" cy="102.5" r="0.42" fill="#1f1e0e" fill-opacity="0.36"/>
<circle cx="532.5" cy="101.3" r="0.47" fill="#1f1e0e" fill-opacity="0.36"/>
<circle cx="532.5" cy="101.5" r="0.41" fill="#1f1e0e" fill-opacity="0.36"/>
<circle cx="589.1" cy="74.2" r="0.74" fill="#1f1e0e" fill-opacity="0.48"/>
<circle cx="589.0" cy="74.6" r="0.64" fill="#1f1e0e" fill-opacity="0.48"/>
<circle cx="590.2" cy="74.7" r="0.73" fill="#1f1e0e" fill-opacity="0.48"/>
<circle cx="599.8" cy="68.1" r="0.61" fill="#1f1e0e" fill-opacity="0.48"/>
<circle cx="599.9" cy="67.4" r="0.63" fill="#1f1e0e" fill-opacity="0.48"/>
<circle cx="599.6" cy="67.2" r="0.62" fill="#1f1e0e" fill-opacity="0.48"/>
<circle cx="594.4" cy="96.1" r="0.54" fill="#1f1e0e" fill-opacity="0.44"/>
<circle cx="593.0" cy="95.4" r="0.75" fill="#1f1e0e" fill-opacity="0.44"/>
<circle cx="593.3" cy="94.2" r="0.88" fill="#1f1e0e" fill-opacity="0.44"/>
<circle cx="600.0" cy="80.3" r="0.61" fill="#1f1e0e" fill-opacity="0.36"/>
<circle cx="600.8" cy="80.6" r="0.49" fill="#1f1e0e" fill-opacity="0.36"/>
<circle cx="600.8" cy="80.4" r="0.76" fill="#1f1e0e" fill-opacity="0.36"/>
<circle cx="585.5" cy="79.2" r="0.57" fill="#1f1e0e" fill-opacity="0.36"/>
<circle cx="586.9" cy="80.7" r="0.50" fill="#1f1e0e" fill-opacity="0.36"/>
<circle cx="586.3" cy="80.7" r="0.63" fill="#1f1e0e" fill-opacity="0.36"/>
<circle cx="561.0" cy="90.6" r="0.61" fill="#1f1e0e" fill-opacity="0.36"/>
<circle cx="560.9" cy="90.1" r="0.60" fill="#1f1e0e" fill-opacity="0.36"/>
<circle cx="561.7" cy="90.9" r="0.49" fill="#1f1e0e" fill-opacity="0.36"/>
<circle cx="586.1" cy="103.4" r="0.53" fill="#1f1e0e" fill-opacity="0.36"/>
<circle cx="586.4" cy="103.1" r="0.48" fill="#1f1e0e" fill-opacity="0.36"/>
<circle cx="586.0" cy="102.7" r="0.68" fill="#1f1e0e" fill-opacity="0.36"/>
<circle cx="574.5" cy="87.9" r="0.88" fill="#1f1e0e" fill-opacity="0.48"/>
<circle cx="573.5" cy="88.4" r="0.62" fill="#1f1e0e" fill-opacity="0.48"/>
<circle cx="573.2" cy="87.6" r="0.98" fill="#1f1e0e" fill-opacity="0.48"/>
<circle cx="575.1" cy="89.2" r="0.59" fill="#1f1e0e" fill-opacity="0.44"/>
<circle cx="576.3" cy="88.3" r="0.52" fill="#1f1e0e" fill-opacity="0.44"/>
<circle cx="576.0" cy="90.1" r="0.89" fill="#1f1e0e" fill-opacity="0.44"/>
<circle cx="633.2" cy="69.0" r="0.65" fill="#1f1e0e" fill-opacity="0.52"/>
<circle cx="633.9" cy="68.4" r="0.87" fill="#1f1e0e" fill-opacity="0.52"/>
<circle cx="632.9" cy="69.1" r="0.81" fill="#1f1e0e" fill-opacity="0.52"/>
<circle cx="622.4" cy="72.2" r="0.41" fill="#1f1e0e" fill-opacity="0.36"/>
<circle cx="621.5" cy="72.8" r="0.41" fill="#1f1e0e" fill-opacity="0.36"/>
<circle cx="621.6" cy="73.0" r="0.64" fill="#1f1e0e" fill-opacity="0.36"/>
<circle cx="617.0" cy="80.4" r="0.67" fill="#1f1e0e" fill-opacity="0.48"/>
<circle cx="616.2" cy="80.6" r="0.88" fill="#1f1e0e" fill-opacity="0.48"/>
<circle cx="617.9" cy="81.6" r="0.79" fill="#1f1e0e" fill-opacity="0.48"/>
<circle cx="648.2" cy="80.1" r="0.68" fill="#1f1e0e" fill-opacity="0.28"/>
<circle cx="647.3" cy="80.4" r="0.42" fill="#1f1e0e" fill-opacity="0.28"/>
<circle cx="648.5" cy="79.9" r="0.51" fill="#1f1e0e" fill-opacity="0.28"/>
<circle cx="652.7" cy="96.9" r="0.70" fill="#1f1e0e" fill-opacity="0.36"/>
<circle cx="653.1" cy="96.5" r="0.60" fill="#1f1e0e" fill-opacity="0.36"/>
<circle cx="651.9" cy="95.7" r="0.70" fill="#1f1e0e" fill-opacity="0.36"/>
<circle cx="527.1" cy="105.6" r="0.51" fill="#1f1e0e" fill-opacity="0.48"/>
<circle cx="526.6" cy="106.2" r="0.73" fill="#1f1e0e" fill-opacity="0.48"/>
<circle cx="527.7" cy="104.5" r="0.67" fill="#1f1e0e" fill-opacity="0.48"/>
<circle cx="532.6" cy="104.7" r="0.60" fill="#1f1e0e" fill-opacity="0.40"/>
<circle cx="531.8" cy="104.1" r="0.72" fill="#1f1e0e" fill-opacity="0.40"/>
<circle cx="533.3" cy="103.9" r="0.71" fill="#1f1e0e" fill-opacity="0.40"/>
<circle cx="517.9" cy="121.3" r="0.96" fill="#1f1e0e" fill-opacity="0.52"/>
<circle cx="518.0" cy="122.0" r="0.79" fill="#1f1e0e" fill-opacity="0.52"/>
<circle cx="519.0" cy="120.8" r="0.95" fill="#1f1e0e" fill-opacity="0.52"/>
<circle cx="508.2" cy="114.2" r="0.62" fill="#1f1e0e" fill-opacity="0.36"/>
<circle cx="508.3" cy="114.7" r="0.46" fill="#1f1e0e" fill-opacity="0.36"/>
<circle cx="508.7" cy="115.3" r="0.56" fill="#1f1e0e" fill-opacity="0.36"/>
<circle cx="537.8" cy="117.7" r="0.90" fill="#1f1e0e" fill-opacity="0.48"/>
<circle cx="538.0" cy="118.0" r="0.89" fill="#1f1e0e" fill-opacity="0.48"/>
<circle cx="537.6" cy="119.5" r="0.60" fill="#1f1e0e" fill-opacity="0.48"/>
<circle cx="539.3" cy="121.3" r="0.63" fill="#1f1e0e" fill-opacity="0.44"/>
<circle cx="539.1" cy="121.3" r="0.65" fill="#1f1e0e" fill-opacity="0.44"/>
<circle cx="540.1" cy="122.2" r="0.78" fill="#1f1e0e" fill-opacity="0.44"/>
<circle cx="541.3" cy="114.8" r="0.68" fill="#1f1e0e" fill-opacity="0.40"/>
<circle cx="542.0" cy="113.3" r="0.72" fill="#1f1e0e" fill-opacity="0.40"/>
<circle cx="541.2" cy="113.6" r="0.75" fill="#1f1e0e" fill-opacity="0.40"/>
<circle cx="536.9" cy="125.6" r="0.64" fill="#1f1e0e" fill-opacity="0.36"/>
<circle cx="536.4" cy="125.6" r="0.54" fill="#1f1e0e" fill-opacity="0.36"/>
<circle cx="535.3" cy="125.8" r="0.42" fill="#1f1e0e" fill-opacity="0.36"/>
<circle cx="530.3" cy="127.3" r="0.66" fill="#1f1e0e" fill-opacity="0.36"/>
<circle cx="529.2" cy="126.7" r="0.72" fill="#1f1e0e" fill-opacity="0.36"/>
<circle cx="530.3" cy="127.4" r="0.59" fill="#1f1e0e" fill-opacity="0.36"/>
<circle cx="541.1" cy="122.5" r="0.62" fill="#1f1e0e" fill-opacity="0.36"/>
<circle cx="542.1" cy="123.0" r="0.48" fill="#1f1e0e" fill-opacity="0.36"/>
<circle cx="541.8" cy="122.4" r="0.53" fill="#1f1e0e" fill-opacity="0.36"/>
<circle cx="530.9" cy="137.3" r="0.92" fill="#1f1e0e" fill-opacity="0.48"/>
<circle cx="530.6" cy="137.4" r="0.97" fill="#1f1e0e" fill-opacity="0.48"/>
<circle cx="530.6" cy="137.6" r="0.95" fill="#1f1e0e" fill-opacity="0.48"/>
<circle cx="541.6" cy="137.5" r="0.65" fill="#1f1e0e" fill-opacity="0.44"/>
<circle cx="540.6" cy="135.3" r="0.84" fill="#1f1e0e" fill-opacity="0.44"/>
<circle cx="542.2" cy="137.3" r="0.59" fill="#1f1e0e" fill-opacity="0.44"/>
<circle cx="525.1" cy="135.1" r="0.52" fill="#1f1e0e" fill-opacity="0.36"/>
<circle cx="525.5" cy="134.8" r="0.56" fill="#1f1e0e" fill-opacity="0.36"/>
<circle cx="526.1" cy="134.3" r="0.51" fill="#1f1e0e" fill-opacity="0.36"/>
<circle cx="512.2" cy="135.9" r="0.49" fill="#1f1e0e" fill-opacity="0.36"/>
<circle cx="513.4" cy="136.6" r="0.67" fill="#1f1e0e" fill-opacity="0.36"/>
<circle cx="512.4" cy="136.0" r="0.51" fill="#1f1e0e" fill-opacity="0.36"/>
<circle cx="523.6" cy="117.7" r="0.58" fill="#1f1e0e" fill-opacity="0.36"/>
<circle cx="522.2" cy="116.4" r="0.65" fill="#1f1e0e" fill-opacity="0.36"/>
<circle cx="523.1" cy="117.2" r="0.48" fill="#1f1e0e" fill-opacity="0.36"/>
<circle cx="551.9" cy="133.0" r="0.60" fill="#1f1e0e" fill-opacity="0.36"/>
<circle cx="551.8" cy="132.9" r="0.70" fill="#1f1e0e" fill-opacity="0.36"/>
<circle cx="551.9" cy="133.1" r="0.42" fill="#1f1e0e" fill-opacity="0.36"/>
<circle cx="602.0" cy="105.3" r="0.76" fill="#1f1e0e" fill-opacity="0.40"/>
<circle cx="602.1" cy="105.3" r="0.79" fill="#1f1e0e" fill-opacity="0.40"/>
<circle cx="601.7" cy="105.3" r="0.59" fill="#1f1e0e" fill-opacity="0.40"/>
<circle cx="575.7" cy="105.2" r="0.59" fill="#1f1e0e" fill-opacity="0.36"/>
<circle cx="576.6" cy="104.6" r="0.61" fill="#1f1e0e" fill-opacity="0.36"/>
<circle cx="576.0" cy="105.6" r="0.61" fill="#1f1e0e" fill-opacity="0.36"/>
<circle cx="555.8" cy="116.2" r="0.53" fill="#1f1e0e" fill-opacity="0.36"/>
<circle cx="556.8" cy="115.1" r="0.49" fill="#1f1e0e" fill-opacity="0.36"/>
<circle cx="555.2" cy="115.3" r="0.64" fill="#1f1e0e" fill-opacity="0.36"/>
<circle cx="583.8" cy="118.8" r="0.60" fill="#1f1e0e" fill-opacity="0.40"/>
<circle cx="583.4" cy="119.5" r="0.66" fill="#1f1e0e" fill-opacity="0.40"/>
<circle cx="583.6" cy="119.3" r="0.73" fill="#1f1e0e" fill-opacity="0.40"/>
<circle cx="562.8" cy="132.9" r="0.97" fill="#1f1e0e" fill-opacity="0.52"/>
<circle cx="562.7" cy="132.9" r="0.95" fill="#1f1e0e" fill-opacity="0.52"/>
<circle cx="562.4" cy="134.1" r="0.86" fill="#1f1e0e" fill-opacity="0.52"/>
<circle cx="581.4" cy="136.9" r="0.63" fill="#1f1e0e" fill-opacity="0.52"/>
<circle cx="580.6" cy="137.5" r="0.61" fill="#1f1e0e" fill-opacity="0.52"/>
<circle cx="580.7" cy="137.9" r="0.61" fill="#1f1e0e" fill-opacity="0.52"/>
<circle cx="565.1" cy="137.1" r="0.70" fill="#1f1e0e" fill-opacity="0.40"/>
<circle cx="565.7" cy="136.7" r="0.68" fill="#1f1e0e" fill-opacity="0.40"/>
<circle cx="566.0" cy="137.3" r="0.49" fill="#1f1e0e" fill-opacity="0.40"/>
<circle cx="574.0" cy="134.5" r="0.69" fill="#1f1e0e" fill-opacity="0.36"/>
<circle cx="574.7" cy="134.3" r="0.55" fill="#1f1e0e" fill-opacity="0.36"/>
<circle cx="575.0" cy="134.5" r="0.66" fill="#1f1e0e" fill-opacity="0.36"/>
<circle cx="558.4" cy="123.8" r="0.61" fill="#1f1e0e" fill-opacity="0.32"/>
<circle cx="558.4" cy="124.8" r="0.53" fill="#1f1e0e" fill-opacity="0.32"/>
<circle cx="556.8" cy="124.2" r="0.65" fill="#1f1e0e" fill-opacity="0.32"/>
<circle cx="577.8" cy="123.1" r="0.72" fill="#1f1e0e" fill-opacity="0.36"/>
<circle cx="577.9" cy="123.4" r="0.71" fill="#1f1e0e" fill-opacity="0.36"/>
<circle cx="576.5" cy="123.2" r="0.43" fill="#1f1e0e" fill-opacity="0.36"/>
<circle cx="610.2" cy="110.2" r="0.65" fill="#1f1e0e" fill-opacity="0.48"/>
<circle cx="610.2" cy="109.7" r="0.83" fill="#1f1e0e" fill-opacity="0.48"/>
<circle cx="610.7" cy="109.5" r="0.68" fill="#1f1e0e" fill-opacity="0.48"/>
<circle cx="615.3" cy="117.6" r="0.70" fill="#1f1e0e" fill-opacity="0.40"/>
<circle cx="616.0" cy="118.1" r="0.54" fill="#1f1e0e" fill-opacity="0.40"/>
<circle cx="616.2" cy="117.8" r="0.67" fill="#1f1e0e" fill-opacity="0.40"/>
<circle cx="642.3" cy="122.0" r="0.88" fill="#1f1e0e" fill-opacity="0.48"/>
<circle cx="642.8" cy="121.5" r="0.72" fill="#1f1e0e" fill-opacity="0.48"/>
<circle cx="643.2" cy="121.9" r="0.76" fill="#1f1e0e" fill-opacity="0.48"/>
<circle cx="635.9" cy="106.7" r="0.49" fill="#1f1e0e" fill-opacity="0.40"/>
<circle cx="635.8" cy="106.5" r="0.70" fill="#1f1e0e" fill-opacity="0.40"/>
<circle cx="635.4" cy="107.8" r="0.63" fill="#1f1e0e" fill-opacity="0.40"/>
<circle cx="606.6" cy="128.3" r="0.72" fill="#1f1e0e" fill-opacity="0.40"/>
<circle cx="607.2" cy="128.8" r="0.65" fill="#1f1e0e" fill-opacity="0.40"/>
<circle cx="607.4" cy="129.4" r="0.67" fill="#1f1e0e" fill-opacity="0.40"/>
<circle cx="607.4" cy="133.7" r="0.72" fill="#1f1e0e" fill-opacity="0.40"/>
<circle cx="607.4" cy="134.8" r="0.53" fill="#1f1e0e" fill-opacity="0.40"/>
<circle cx="607.7" cy="134.2" r="0.70" fill="#1f1e0e" fill-opacity="0.40"/>
<circle cx="627.0" cy="139.0" r="0.53" fill="#1f1e0e" fill-opacity="0.40"/>
<circle cx="627.6" cy="138.0" r="0.73" fill="#1f1e0e" fill-opacity="0.40"/>
<circle cx="626.9" cy="138.6" r="0.71" fill="#1f1e0e" fill-opacity="0.40"/>
<circle cx="651.2" cy="125.6" r="0.54" fill="#1f1e0e" fill-opacity="0.32"/>
<circle cx="653.0" cy="125.5" r="0.70" fill="#1f1e0e" fill-opacity="0.32"/>
<circle cx="651.5" cy="125.2" r="0.72" fill="#1f1e0e" fill-opacity="0.32"/>
<circle cx="604.2" cy="35.3" r="0.85" fill="#1f1e0e" fill-opacity="0.56"/>
<circle cx="604.5" cy="33.8" r="0.88" fill="#1f1e0e" fill-opacity="0.56"/>
<circle cx="605.0" cy="35.5" r="0.90" fill="#1f1e0e" fill-opacity="0.56"/>
<circle cx="603.6" cy="35.9" r="0.96" fill="#1f1e0e" fill-opacity="0.56"/>
<circle cx="604.9" cy="35.7" r="0.93" fill="#1f1e0e" fill-opacity="0.56"/>
<circle cx="602.6" cy="33.7" r="0.77" fill="#1f1e0e" fill-opacity="0.56"/>
<circle cx="603.0" cy="34.1" r="0.97" fill="#1f1e0e" fill-opacity="0.56"/>
<circle cx="605.6" cy="34.8" r="0.87" fill="#1f1e0e" fill-opacity="0.56"/>
<circle cx="605.4" cy="37.1" r="0.56" fill="#1f1e0e" fill-opacity="0.56"/>
<circle cx="603.7" cy="35.1" r="0.79" fill="#1f1e0e" fill-opacity="0.56"/>
<circle cx="647.3" cy="32.1" r="1.01" fill="#1f1e0e" fill-opacity="0.60"/>
<circle cx="647.1" cy="33.2" r="0.92" fill="#1f1e0e" fill-opacity="0.60"/>
<circle cx="645.4" cy="32.5" r="0.94" fill="#1f1e0e" fill-opacity="0.60"/>
<circle cx="646.8" cy="33.6" r="1.15" fill="#1f1e0e" fill-opacity="0.60"/>
<circle cx="645.8" cy="29.3" r="0.88" fill="#1f1e0e" fill-opacity="0.60"/>
<circle cx="648.1" cy="35.9" r="0.94" fill="#1f1e0e" fill-opacity="0.60"/>
<circle cx="645.9" cy="34.9" r="1.03" fill="#1f1e0e" fill-opacity="0.60"/>
<circle cx="646.5" cy="33.4" r="0.90" fill="#1f1e0e" fill-opacity="0.60"/>
<circle cx="646.9" cy="30.3" r="0.80" fill="#1f1e0e" fill-opacity="0.60"/>
<circle cx="645.8" cy="31.0" r="1.48" fill="#1f1e0e" fill-opacity="0.60"/>
<circle cx="650.7" cy="43.6" r="0.57" fill="#1f1e0e" fill-opacity="0.36"/>
<circle cx="651.1" cy="43.7" r="0.58" fill="#1f1e0e" fill-opacity="0.36"/>
<circle cx="652.3" cy="41.6" r="0.56" fill="#1f1e0e" fill-opacity="0.36"/>
<circle cx="651.2" cy="41.4" r="0.98" fill="#1f1e0e" fill-opacity="0.36"/>
<circle cx="651.4" cy="41.4" r="0.81" fill="#1f1e0e" fill-opacity="0.36"/>
<circle cx="651.4" cy="42.6" r="0.95" fill="#1f1e0e" fill-opacity="0.36"/>
<circle cx="653.4" cy="41.3" r="0.57" fill="#1f1e0e" fill-opacity="0.36"/>
<circle cx="650.7" cy="42.8" r="0.88" fill="#1f1e0e" fill-opacity="0.36"/>
<circle cx="652.6" cy="40.5" r="0.56" fill="#1f1e0e" fill-opacity="0.36"/>
<circle cx="653.1" cy="42.1" r="0.95" fill="#1f1e0e" fill-opacity="0.36"/>
<circle cx="640.0" cy="52.9" r="0.66" fill="#1f1e0e" fill-opacity="0.52"/>
<circle cx="642.3" cy="54.6" r="0.79" fill="#1f1e0e" fill-opacity="0.52"/>
<circle cx="641.3" cy="55.0" r="0.73" fill="#1f1e0e" fill-opacity="0.52"/>
<circle cx="642.0" cy="54.8" r="0.66" fill="#1f1e0e" fill-opacity="0.52"/>
<circle cx="639.0" cy="55.9" r="0.46" fill="#1f1e0e" fill-opacity="0.52"/>
<circle cx="642.2" cy="55.8" r="0.58" fill="#1f1e0e" fill-opacity="0.52"/>
<circle cx="640.8" cy="54.3" r="0.80" fill="#1f1e0e" fill-opacity="0.52"/>
<circle cx="640.8" cy="55.1" r="0.43" fill="#1f1e0e" fill-opacity="0.52"/>
<circle cx="641.8" cy="55.1" r="0.51" fill="#1f1e0e" fill-opacity="0.52"/>
<circle cx="640.1" cy="53.6" r="0.77" fill="#1f1e0e" fill-opacity="0.52"/>
<circle cx="645.1" cy="57.9" r="0.71" fill="#1f1e0e" fill-opacity="0.48"/>
<circle cx="644.2" cy="57.9" r="0.72" fill="#1f1e0e" fill-opacity="0.48"/>
<circle cx="642.5" cy="58.6" r="0.74" fill="#1f1e0e" fill-opacity="0.48"/>
<circle cx="644.2" cy="57.8" r="0.53" fill="#1f1e0e" fill-opacity="0.48"/>
<circle cx="642.9" cy="58.9" r="0.52" fill="#1f1e0e" fill-opacity="0.48"/>
<circle cx="645.3" cy="58.9" r="0.65" fill="#1f1e0e" fill-opacity="0.48"/>
<circle cx="641.4" cy="58.2" r="0.40" fill="#1f1e0e" fill-opacity="0.48"/>
<circle cx="645.7" cy="57.6" r="0.52" fill="#1f1e0e" fill-opacity="0.48"/>
<circle cx="644.8" cy="56.6" r="0.72" fill="#1f1e0e" fill-opacity="0.48"/>
<circle cx="643.9" cy="59.2" r="0.44" fill="#1f1e0e" fill-opacity="0.48"/>
<circle cx="604.5" cy="62.5" r="0.87" fill="#1f1e0e" fill-opacity="0.60"/>
<circle cx="605.5" cy="61.3" r="0.72" fill="#1f1e0e" fill-opacity="0.60"/>
<circle cx="604.7" cy="61.9" r="1.20" fill="#1f1e0e" fill-opacity="0.60"/>
<circle cx="603.7" cy="62.6" r="0.65" fill="#1f1e0e" fill-opacity="0.60"/>
<circle cx="600.3" cy="62.0" r="0.75" fill="#1f1e0e" fill-opacity="0.60"/>
<circle cx="602.9" cy="63.7" r="0.99" fill="#1f1e0e" fill-opacity="0.60"/>
<circle cx="603.0" cy="64.5" r="0.89" fill="#1f1e0e" fill-opacity="0.60"/>
<circle cx="604.3" cy="64.0" r="0.67" fill="#1f1e0e" fill-opacity="0.60"/>
<circle cx="604.0" cy="62.9" r="0.61" fill="#1f1e0e" fill-opacity="0.60"/>
<circle cx="600.3" cy="60.6" r="0.79" fill="#1f1e0e" fill-opacity="0.60"/>
<circle cx="607.5" cy="59.1" r="0.72" fill="#1f1e0e" fill-opacity="0.52"/>
<circle cx="606.8" cy="61.3" r="0.57" fill="#1f1e0e" fill-opacity="0.52"/>
<circle cx="607.3" cy="62.1" r="0.85" fill="#1f1e0e" fill-opacity="0.52"/>
<circle cx="608.2" cy="59.2" r="0.57" fill="#1f1e0e" fill-opacity="0.52"/>
<circle cx="607.6" cy="60.7" r="0.64" fill="#1f1e0e" fill-opacity="0.52"/>
<circle cx="606.4" cy="60.1" r="1.07" fill="#1f1e0e" fill-opacity="0.52"/>
<circle cx="608.6" cy="61.6" r="0.94" fill="#1f1e0e" fill-opacity="0.52"/>
<circle cx="608.2" cy="59.9" r="0.71" fill="#1f1e0e" fill-opacity="0.52"/>
<circle cx="607.0" cy="58.7" r="0.67" fill="#1f1e0e" fill-opacity="0.52"/>
<circle cx="608.0" cy="59.0" r="0.80" fill="#1f1e0e" fill-opacity="0.52"/>
<circle cx="578.6" cy="79.8" r="0.64" fill="#1f1e0e" fill-opacity="0.60"/>
<circle cx="580.6" cy="82.5" r="0.96" fill="#1f1e0e" fill-opacity="0.60"/>
<circle cx="581.9" cy="82.2" r="0.96" fill="#1f1e0e" fill-opacity="0.60"/>
<circle cx="576.6" cy="81.9" r="0.64" fill="#1f1e0e" fill-opacity="0.60"/>
<circle cx="583.6" cy="82.4" r="0.53" fill="#1f1e0e" fill-opacity="0.60"/>
<circle cx="582.5" cy="80.0" r="0.88" fill="#1f1e0e" fill-opacity="0.60"/>
<circle cx="579.0" cy="82.7" r="0.93" fill="#1f1e0e" fill-opacity="0.60"/>
<circle cx="574.2" cy="82.4" r="0.73" fill="#1f1e0e" fill-opacity="0.60"/>
<circle cx="580.9" cy="80.5" r="0.50" fill="#1f1e0e" fill-opacity="0.60"/>
<circle cx="580.6" cy="81.2" r="0.86" fill="#1f1e0e" fill-opacity="0.60"/>
<circle cx="583.4" cy="83.3" r="0.65" fill="#1f1e0e" fill-opacity="0.56"/>
<circle cx="582.7" cy="82.6" r="0.64" fill="#1f1e0e" fill-opacity="0.56"/>
<circle cx="582.2" cy="83.3" r="0.58" fill="#1f1e0e" fill-opacity="0.56"/>
<circle cx="581.1" cy="82.1" r="0.61" fill="#1f1e0e" fill-opacity="0.56"/>
<circle cx="582.4" cy="84.1" r="0.76" fill="#1f1e0e" fill-opacity="0.56"/>
<circle cx="580.9" cy="83.4" r="0.67" fill="#1f1e0e" fill-opacity="0.56"/>
<circle cx="583.0" cy="83.3" r="0.59" fill="#1f1e0e" fill-opacity="0.56"/>
<circle cx="583.2" cy="82.4" r="0.44" fill="#1f1e0e" fill-opacity="0.56"/>
<circle cx="580.4" cy="83.6" r="0.79" fill="#1f1e0e" fill-opacity="0.56"/>
<circle cx="583.1" cy="84.4" r="0.68" fill="#1f1e0e" fill-opacity="0.56"/>
<circle cx="579.5" cy="67.6" r="0.27" fill="#1f1e0e" fill-opacity="0.48"/>
<circle cx="580.3" cy="68.9" r="0.31" fill="#1f1e0e" fill-opacity="0.48"/>
<circle cx="580.1" cy="69.1" r="0.40" fill="#1f1e0e" fill-opacity="0.48"/>
<circle cx="580.8" cy="68.5" r="0.37" fill="#1f1e0e" fill-opacity="0.48"/>
<circle cx="579.2" cy="67.2" r="0.30" fill="#1f1e0e" fill-opacity="0.48"/>
<circle cx="579.5" cy="68.7" r="0.41" fill="#1f1e0e" fill-opacity="0.48"/>
<circle cx="579.8" cy="68.0" r="0.41" fill="#1f1e0e" fill-opacity="0.48"/>
<circle cx="580.1" cy="68.0" r="0.26" fill="#1f1e0e" fill-opacity="0.48"/>
<circle cx="580.1" cy="68.9" r="0.35" fill="#1f1e0e" fill-opacity="0.48"/>
<circle cx="580.0" cy="68.6" r="0.36" fill="#1f1e0e" fill-opacity="0.48"/>
<circle cx="612.9" cy="76.5" r="0.38" fill="#1f1e0e" fill-opacity="0.52"/>
<circle cx="612.4" cy="75.7" r="0.48" fill="#1f1e0e" fill-opacity="0.52"/>
<circle cx="613.0" cy="75.6" r="0.47" fill="#1f1e0e" fill-opacity="0.52"/>
<circle cx="614.5" cy="75.9" r="0.41" fill="#1f1e0e" fill-opacity="0.52"/>
<circle cx="613.3" cy="76.5" r="0.33" fill="#1f1e0e" fill-opacity="0.52"/>
<circle cx="613.2" cy="77.6" r="0.55" fill="#1f1e0e" fill-opacity="0.52"/>
<circle cx="614.3" cy="76.1" r="0.40" fill="#1f1e0e" fill-opacity="0.52"/>
<circle cx="611.5" cy="75.5" r="0.43" fill="#1f1e0e" fill-opacity="0.52"/>
<circle cx="614.0" cy="75.8" r="0.46" fill="#1f1e0e" fill-opacity="0.52"/>
<circle cx="612.5" cy="75.9" r="0.48" fill="#1f1e0e" fill-opacity="0.52"/>
<circle cx="606.5" cy="91.9" r="0.36" fill="#1f1e0e" fill-opacity="0.48"/>
<circle cx="607.3" cy="91.6" r="0.40" fill="#1f1e0e" fill-opacity="0.48"/>
<circle cx="609.4" cy="91.7" r="0.37" fill="#1f1e0e" fill-opacity="0.48"/>
<circle cx="607.2" cy="91.5" r="0.36" fill="#1f1e0e" fill-opacity="0.48"/>
<circle cx="610.0" cy="92.2" r="0.46" fill="#1f1e0e" fill-opacity="0.48"/>
<circle cx="609.6" cy="92.1" r="0.33" fill="#1f1e0e" fill-opacity="0.48"/>
<circle cx="611.7" cy="91.7" r="0.43" fill="#1f1e0e" fill-opacity="0.48"/>
<circle cx="609.7" cy="91.8" r="0.36" fill="#1f1e0e" fill-opacity="0.48"/>
<circle cx="610.2" cy="92.1" r="0.53" fill="#1f1e0e" fill-opacity="0.48"/>
<circle cx="609.0" cy="92.0" r="0.59" fill="#1f1e0e" fill-opacity="0.48"/>
<circle cx="591.5" cy="108.4" r="0.79" fill="#1f1e0e" fill-opacity="0.56"/>
<circle cx="588.1" cy="110.4" r="1.27" fill="#1f1e0e" fill-opacity="0.56"/>
<circle cx="590.4" cy="110.3" r="0.98" fill="#1f1e0e" fill-opacity="0.56"/>
<circle cx="590.4" cy="110.4" r="1.07" fill="#1f1e0e" fill-opacity="0.56"/>
<circle cx="593.8" cy="111.9" r="1.06" fill="#1f1e0e" fill-opacity="0.56"/>
<circle cx="588.6" cy="111.8" r="1.19" fill="#1f1e0e" fill-opacity="0.56"/>
<circle cx="591.8" cy="109.4" r="1.10" fill="#1f1e0e" fill-opacity="0.56"/>
<circle cx="587.7" cy="112.6" r="0.75" fill="#1f1e0e" fill-opacity="0.56"/>
<circle cx="587.5" cy="110.6" r="0.94" fill="#1f1e0e" fill-opacity="0.56"/>
<circle cx="593.0" cy="108.6" r="0.83" fill="#1f1e0e" fill-opacity="0.56"/>
<circle cx="594.5" cy="111.6" r="0.68" fill="#1f1e0e" fill-opacity="0.48"/>
<circle cx="598.2" cy="113.1" r="1.19" fill="#1f1e0e" fill-opacity="0.48"/>
<circle cx="595.5" cy="113.8" r="1.05" fill="#1f1e0e" fill-opacity="0.48"/>
<circle cx="594.8" cy="114.8" r="0.91" fill="#1f1e0e" fill-opacity="0.48"/>
<circle cx="595.6" cy="113.5" r="1.25" fill="#1f1e0e" fill-opacity="0.48"/>
<circle cx="595.5" cy="113.3" r="0.85" fill="#1f1e0e" fill-opacity="0.48"/>
<circle cx="596.7" cy="114.3" r="1.04" fill="#1f1e0e" fill-opacity="0.48"/>
<circle cx="596.2" cy="113.7" r="1.07" fill="#1f1e0e" fill-opacity="0.48"/>
<circle cx="595.9" cy="114.9" r="1.09" fill="#1f1e0e" fill-opacity="0.48"/>
<circle cx="594.8" cy="114.7" r="1.20" fill="#1f1e0e" fill-opacity="0.48"/>
<circle cx="623.1" cy="130.5" r="1.49" fill="#1f1e0e" fill-opacity="0.60"/>
<circle cx="623.3" cy="131.1" r="1.17" fill="#1f1e0e" fill-opacity="0.60"/>
<circle cx="624.1" cy="129.8" r="0.80" fill="#1f1e0e" fill-opacity="0.60"/>
<circle cx="622.1" cy="129.4" r="1.36" fill="#1f1e0e" fill-opacity="0.60"/>
<circle cx="621.9" cy="127.5" r="1.37" fill="#1f1e0e" fill-opacity="0.60"/>
<circle cx="624.4" cy="129.7" r="0.94" fill="#1f1e0e" fill-opacity="0.60"/>
<circle cx="622.4" cy="134.3" r="0.99" fill="#1f1e0e" fill-opacity="0.60"/>
<circle cx="623.5" cy="127.8" r="0.80" fill="#1f1e0e" fill-opacity="0.60"/>
<circle cx="627.4" cy="129.9" r="0.96" fill="#1f1e0e" fill-opacity="0.60"/>
<circle cx="623.4" cy="132.6" r="1.13" fill="#1f1e0e" fill-opacity="0.60"/>
<circle cx="630.0" cy="133.8" r="0.72" fill="#1f1e0e" fill-opacity="0.56"/>
<circle cx="632.8" cy="133.1" r="0.56" fill="#1f1e0e" fill-opacity="0.56"/>
<circle cx="632.1" cy="131.9" r="1.10" fill="#1f1e0e" fill-opacity="0.56"/>
<circle cx="633.4" cy="132.8" r="0.90" fill="#1f1e0e" fill-opacity="0.56"/>
<circle cx="631.2" cy="130.7" r="1.10" fill="#1f1e0e" fill-opacity="0.56"/>
<circle cx="634.0" cy="132.1" r="0.98" fill="#1f1e0e" fill-opacity="0.56"/>
<circle cx="629.7" cy="132.3" r="1.04" fill="#1f1e0e" fill-opacity="0.56"/>
<circle cx="631.6" cy="132.8" r="1.05" fill="#1f1e0e" fill-opacity="0.56"/>
<circle cx="631.0" cy="132.9" r="0.71" fill="#1f1e0e" fill-opacity="0.56"/>
<circle cx="631.7" cy="134.8" r="1.04" fill="#1f1e0e" fill-opacity="0.56"/>
<circle cx="628.1" cy="130.8" r="0.99" fill="#1f1e0e" fill-opacity="0.48"/>
<circle cx="626.4" cy="129.8" r="0.86" fill="#1f1e0e" fill-opacity="0.48"/>
<circle cx="628.8" cy="130.3" r="0.92" fill="#1f1e0e" fill-opacity="0.48"/>
<circle cx="627.9" cy="129.9" r="0.52" fill="#1f1e0e" fill-opacity="0.48"/>
<circle cx="630.6" cy="130.6" r="0.60" fill="#1f1e0e" fill-opacity="0.48"/>
<circle cx="628.7" cy="132.7" r="0.91" fill="#1f1e0e" fill-opacity="0.48"/>
<circle cx="627.4" cy="131.6" r="0.51" fill="#1f1e0e" fill-opacity="0.48"/>
<circle cx="629.7" cy="133.6" r="0.76" fill="#1f1e0e" fill-opacity="0.48"/>
<circle cx="629.8" cy="131.1" r="0.58" fill="#1f1e0e" fill-opacity="0.48"/>
<circle cx="626.5" cy="130.7" r="0.73" fill="#1f1e0e" fill-opacity="0.48"/>
<circle cx="570.7" cy="75.9" r="0.44" fill="#1f1e0e" fill-opacity="0.44"/>
<circle cx="571.5" cy="75.4" r="0.43" fill="#1f1e0e" fill-opacity="0.44"/>
<circle cx="571.5" cy="76.0" r="0.33" fill="#1f1e0e" fill-opacity="0.44"/>
<circle cx="570.5" cy="75.6" r="0.23" fill="#1f1e0e" fill-opacity="0.44"/>
<circle cx="570.7" cy="75.6" r="0.35" fill="#1f1e0e" fill-opacity="0.44"/>
<circle cx="571.4" cy="76.0" r="0.42" fill="#1f1e0e" fill-opacity="0.44"/>
<circle cx="571.6" cy="75.7" r="0.32" fill="#1f1e0e" fill-opacity="0.44"/>
<circle cx="571.9" cy="75.6" r="0.29" fill="#1f1e0e" fill-opacity="0.44"/>
<circle cx="572.4" cy="74.9" r="0.41" fill="#1f1e0e" fill-opacity="0.44"/>
<circle cx="571.3" cy="75.0" r="0.34" fill="#1f1e0e" fill-opacity="0.44"/>
<path d="M558.3,46.8 L560.5,42.5 M559,41 L562.7,44.7 L565,41.8 L567,39.6 L568.5,36.7 L570.7,36" fill="none" stroke="#26240f" stroke-opacity="0.5" stroke-width="0.85" stroke-linejoin="round"/>
<path d="M584.7,104 L587,110.6 L591.3,115 L595.7,117.3 L600.1,110.6 L600.1,101.7 L598,95 L602.4,90.6 L609,88.4 L614.6,92.9" fill="none" stroke="#26240f" stroke-opacity="0.5" stroke-width="0.85" stroke-linejoin="round"/>
<path d="M568.5,104 L568,110 L567,114 L568,120" fill="none" stroke="#26240f" stroke-opacity="0.5" stroke-width="0.85" stroke-linejoin="round"/>
<path d="M609.8,33.8 L612,40 L614,46 L615.6,51.2" fill="none" stroke="#26240f" stroke-opacity="0.5" stroke-width="0.85" stroke-linejoin="round"/>
<path d="M566,47.6 L563,46" fill="none" stroke="#26240f" stroke-opacity="0.5" stroke-width="0.85" stroke-linejoin="round"/>
</g>
<ellipse cx="566.8" cy="73.6" rx="4.6" ry="5.0" fill="none" stroke="#ec1c24" stroke-width="1.2"/>
<line x1="218.5" y1="17.3" x2="245.5" y2="17.3" stroke="#000" stroke-width="1.4"/>
<text x="248.9" y="21.8" font-size="12">Data</text>
<line x1="218.5" y1="31.7" x2="245.5" y2="31.7" stroke="#d4a11e" stroke-width="1.4"/>
<text x="248.9" y="36.2" font-size="12">Fit</text>
<line x1="218.5" y1="46.5" x2="245.5" y2="46.5" stroke="#e8403f" stroke-width="1.4"/>
<text x="248.9" y="51.0" font-size="12">D<tspan font-size="8.5" dy="3.2">4</tspan><tspan dy="-3.2"> band</tspan></text>
<line x1="218.5" y1="63.7" x2="245.5" y2="63.7" stroke="#2f78d6" stroke-width="1.4"/>
<text x="248.9" y="68.2" font-size="12">D<tspan font-size="8.5" dy="3.2">1</tspan><tspan dy="-3.2"> band</tspan></text>
<line x1="218.5" y1="81.0" x2="245.5" y2="81.0" stroke="#4db27b" stroke-width="1.4"/>
<text x="248.9" y="85.5" font-size="12">D<tspan font-size="8.5" dy="3.2">5</tspan><tspan dy="-3.2"> band</tspan></text>
<line x1="218.5" y1="98.4" x2="245.5" y2="98.4" stroke="#ab72dc" stroke-width="1.4"/>
<text x="248.9" y="102.9" font-size="12">G band</text>
<text x="41.50" y="236.6" font-size="16" text-anchor="middle" font-weight="normal" >600</text>
<text x="105.85" y="236.6" font-size="16" text-anchor="middle" font-weight="normal" >1200</text>
<text x="170.19" y="236.6" font-size="16" text-anchor="middle" font-weight="normal" >1800</text>
<text x="234.54" y="236.6" font-size="16" text-anchor="middle" font-weight="normal" >2400</text>
<text x="298.88" y="236.6" font-size="16" text-anchor="middle" font-weight="normal" >3000</text>
<text x="390.67" y="236.6" font-size="16" text-anchor="middle" font-weight="normal" >100</text>
<text x="431.83" y="236.6" font-size="16" text-anchor="middle" font-weight="normal" >700</text>
<text x="473.00" y="236.6" font-size="16" text-anchor="middle" font-weight="normal" >1300</text>
<text x="514.16" y="236.6" font-size="16" text-anchor="middle" font-weight="normal" >1900</text>
<text x="555.33" y="236.6" font-size="16" text-anchor="middle" font-weight="normal" >2500</text>
<text x="596.49" y="236.6" font-size="16" text-anchor="middle" font-weight="normal" >3100</text>
<text x="637.65" y="236.6" font-size="16" text-anchor="middle" font-weight="normal" >3700</text>
<text x="95.0" y="256.7" font-size="16" text-anchor="start" font-weight="normal" word-spacing="1.7">Raman shift (cm<tspan font-size="14" x="213.9" y="252.6">-</tspan><tspan font-size="14" x="219.6" y="252.6">1</tspan><tspan x="229.1" y="256.7">)</tspan></text>
<text x="447.4" y="256.7" font-size="16" text-anchor="start" font-weight="normal" word-spacing="1.7">Raman shift (cm<tspan font-size="14" x="566.3" y="252.6">-</tspan><tspan font-size="14" x="572.0" y="252.6">1</tspan><tspan x="581.5" y="256.7">)</tspan></text>
<text transform="translate(13.7,104.9) rotate(-90)" font-size="16.5" text-anchor="middle">Intensity (arb. units)</text>
<text transform="translate(372.1,102.3) rotate(-90)" font-size="16.5" text-anchor="middle">Intensity (arb. units)</text>
<text x="47.0" y="23.0" font-size="13" text-anchor="start" font-weight="bold" >(a)</text>
<text x="402.4" y="22.2" font-size="13" text-anchor="start" font-weight="bold" >(b)</text>
<text x="230.2" y="153.7" font-size="12" text-anchor="start" font-weight="normal" >2D band</text>
<text x="561.8" y="178.0" font-size="12" text-anchor="start" font-weight="normal" >2D band</text>
<text x="450.3" y="62.0" font-size="12" text-anchor="start" font-weight="normal" >D band</text>
<text x="474.4" y="20.0" font-size="12" text-anchor="start" font-weight="normal" >G band</text>
<text x="394.0" y="182.8" font-size="12" text-anchor="start" font-weight="normal" >RBM</text>
</svg>
</body></html>
